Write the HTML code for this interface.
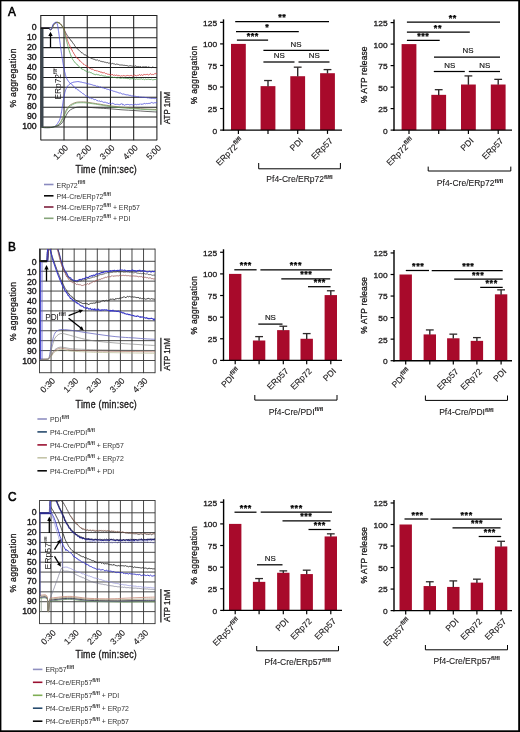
<!DOCTYPE html>
<html><head><meta charset="utf-8"><title>Figure</title>
<style>html,body{margin:0;padding:0;background:#fff;}body{width:520px;height:732px;overflow:hidden;}svg{display:block;font-family:"Liberation Sans", sans-serif;will-change:transform;}</style>
</head><body>
<svg width="520" height="732" viewBox="0 0 520 732">
<rect x="0" y="0" width="520" height="732" fill="#fff"/>
<line x1="40.80" y1="15.50" x2="156.90" y2="15.50" stroke="#1e1e1e" stroke-width="1.05" stroke-linecap="butt"/>
<line x1="40.80" y1="27.80" x2="156.90" y2="27.80" stroke="#1e1e1e" stroke-width="1.05" stroke-linecap="butt"/>
<line x1="40.80" y1="37.72" x2="156.90" y2="37.72" stroke="#1e1e1e" stroke-width="1.05" stroke-linecap="butt"/>
<line x1="40.80" y1="47.64" x2="156.90" y2="47.64" stroke="#1e1e1e" stroke-width="1.05" stroke-linecap="butt"/>
<line x1="40.80" y1="57.56" x2="156.90" y2="57.56" stroke="#1e1e1e" stroke-width="1.05" stroke-linecap="butt"/>
<line x1="40.80" y1="67.48" x2="156.90" y2="67.48" stroke="#1e1e1e" stroke-width="1.05" stroke-linecap="butt"/>
<line x1="40.80" y1="77.40" x2="156.90" y2="77.40" stroke="#1e1e1e" stroke-width="1.05" stroke-linecap="butt"/>
<line x1="40.80" y1="87.32" x2="156.90" y2="87.32" stroke="#1e1e1e" stroke-width="1.05" stroke-linecap="butt"/>
<line x1="40.80" y1="97.24" x2="156.90" y2="97.24" stroke="#1e1e1e" stroke-width="1.05" stroke-linecap="butt"/>
<line x1="40.80" y1="107.16" x2="156.90" y2="107.16" stroke="#1e1e1e" stroke-width="1.05" stroke-linecap="butt"/>
<line x1="40.80" y1="117.08" x2="156.90" y2="117.08" stroke="#1e1e1e" stroke-width="1.05" stroke-linecap="butt"/>
<line x1="40.80" y1="127.00" x2="156.90" y2="127.00" stroke="#1e1e1e" stroke-width="1.05" stroke-linecap="butt"/>
<line x1="40.80" y1="139.90" x2="156.90" y2="139.90" stroke="#1e1e1e" stroke-width="1.05" stroke-linecap="butt"/>
<line x1="40.80" y1="15.05" x2="40.80" y2="140.35" stroke="#1e1e1e" stroke-width="1.05" stroke-linecap="butt"/>
<line x1="64.02" y1="15.05" x2="64.02" y2="140.35" stroke="#1e1e1e" stroke-width="1.05" stroke-linecap="butt"/>
<line x1="87.24" y1="15.05" x2="87.24" y2="140.35" stroke="#1e1e1e" stroke-width="1.05" stroke-linecap="butt"/>
<line x1="110.46" y1="15.05" x2="110.46" y2="140.35" stroke="#1e1e1e" stroke-width="1.05" stroke-linecap="butt"/>
<line x1="133.68" y1="15.05" x2="133.68" y2="140.35" stroke="#1e1e1e" stroke-width="1.05" stroke-linecap="butt"/>
<line x1="156.90" y1="15.05" x2="156.90" y2="140.35" stroke="#1e1e1e" stroke-width="1.05" stroke-linecap="butt"/>
<text transform="translate(36.70,30.10) scale(1.05,1)" font-size="8.3" text-anchor="end" font-weight="normal" fill="#1c1a1b"  stroke="#1c1a1b" stroke-width="0.38">0</text>
<text transform="translate(36.70,40.02) scale(1.05,1)" font-size="8.3" text-anchor="end" font-weight="normal" fill="#1c1a1b"  stroke="#1c1a1b" stroke-width="0.38">10</text>
<text transform="translate(36.70,49.94) scale(1.05,1)" font-size="8.3" text-anchor="end" font-weight="normal" fill="#1c1a1b"  stroke="#1c1a1b" stroke-width="0.38">20</text>
<text transform="translate(36.70,59.86) scale(1.05,1)" font-size="8.3" text-anchor="end" font-weight="normal" fill="#1c1a1b"  stroke="#1c1a1b" stroke-width="0.38">30</text>
<text transform="translate(36.70,69.78) scale(1.05,1)" font-size="8.3" text-anchor="end" font-weight="normal" fill="#1c1a1b"  stroke="#1c1a1b" stroke-width="0.38">40</text>
<text transform="translate(36.70,79.70) scale(1.05,1)" font-size="8.3" text-anchor="end" font-weight="normal" fill="#1c1a1b"  stroke="#1c1a1b" stroke-width="0.38">50</text>
<text transform="translate(36.70,89.62) scale(1.05,1)" font-size="8.3" text-anchor="end" font-weight="normal" fill="#1c1a1b"  stroke="#1c1a1b" stroke-width="0.38">60</text>
<text transform="translate(36.70,99.54) scale(1.05,1)" font-size="8.3" text-anchor="end" font-weight="normal" fill="#1c1a1b"  stroke="#1c1a1b" stroke-width="0.38">70</text>
<text transform="translate(36.70,109.46) scale(1.05,1)" font-size="8.3" text-anchor="end" font-weight="normal" fill="#1c1a1b"  stroke="#1c1a1b" stroke-width="0.38">80</text>
<text transform="translate(36.70,119.38) scale(1.05,1)" font-size="8.3" text-anchor="end" font-weight="normal" fill="#1c1a1b"  stroke="#1c1a1b" stroke-width="0.38">90</text>
<text transform="translate(36.70,129.30) scale(1.05,1)" font-size="8.3" text-anchor="end" font-weight="normal" fill="#1c1a1b"  stroke="#1c1a1b" stroke-width="0.38">100</text>
<text transform="translate(68.72,148.40) rotate(-45)" font-size="8.7" text-anchor="end" font-weight="normal" fill="#1c1a1b"  stroke="#1c1a1b" stroke-width="0.12">1:00</text>
<text transform="translate(91.94,148.40) rotate(-45)" font-size="8.7" text-anchor="end" font-weight="normal" fill="#1c1a1b"  stroke="#1c1a1b" stroke-width="0.12">2:00</text>
<text transform="translate(115.16,148.40) rotate(-45)" font-size="8.7" text-anchor="end" font-weight="normal" fill="#1c1a1b"  stroke="#1c1a1b" stroke-width="0.12">3:00</text>
<text transform="translate(138.38,148.40) rotate(-45)" font-size="8.7" text-anchor="end" font-weight="normal" fill="#1c1a1b"  stroke="#1c1a1b" stroke-width="0.12">4:00</text>
<text transform="translate(161.60,148.40) rotate(-45)" font-size="8.7" text-anchor="end" font-weight="normal" fill="#1c1a1b"  stroke="#1c1a1b" stroke-width="0.12">5:00</text>
<text transform="translate(16.30,77.90) rotate(-90) scale(0.9,1)" font-size="9.5" text-anchor="middle" font-weight="normal" fill="#1c1a1b" letter-spacing="0.37" stroke="#1c1a1b" stroke-width="0.3">% aggregation</text>
<text transform="translate(106.30,172.90) scale(0.86,1)" font-size="10.2" text-anchor="middle" font-weight="normal" fill="#1c1a1b" letter-spacing="0.32" stroke="#1c1a1b" stroke-width="0.35">Time (min:sec)</text>
<text transform="translate(8.10,16.20) scale(0.97,1)" font-size="12.2" text-anchor="start" font-weight="normal" fill="#000"  stroke="#000" stroke-width="0.6">A</text>
<line x1="160.90" y1="91.30" x2="160.90" y2="124.80" stroke="#000" stroke-width="1.1" stroke-linecap="butt"/>
<text transform="translate(169.80,124.10) rotate(-90) scale(0.89,1)" font-size="8.9" text-anchor="start" font-weight="normal" fill="#1c1a1b"  stroke="#1c1a1b" stroke-width="0.3">ATP 1nM</text>
<path d="M41.6,127.5 L41.6,28.2 L48.5,28.2 L49.5,28.6 L50.0,29.4 L50.6,30.0 L51.2,29.6 L51.8,28.5 L52.1,27.9 L52.4,27.2 L52.8,26.4 L53.1,25.6 L53.5,25.0 L54.0,24.3 L54.5,23.7 L55.0,23.2 L55.5,22.8 L56.5,22.4 L57.5,22.4 L58.3,22.6 L59.2,23.0 L60.0,23.5 L60.5,24.0 L61.0,24.6 L61.5,25.3 L62.0,26.0 L62.4,26.6 L62.8,27.2 L63.3,27.9 L63.8,28.8 L64.1,29.3 L64.4,29.9 L64.7,30.6 L65.0,31.3 L65.3,32.0 L65.7,32.7 L66.1,33.5 L66.5,34.2 L67.0,35.0 L67.3,35.5 L67.7,36.0 L68.1,36.6 L68.5,37.3 L68.9,37.7 L69.4,38.4 L69.8,39.1 L70.3,39.4 L70.7,40.2 L71.2,41.0 L71.6,40.9 L72.1,41.9 L72.5,42.5 L73.0,42.9 L73.4,43.8 L73.8,44.3 L74.3,44.6 L74.7,45.7 L75.2,46.3 L75.6,46.9 L76.1,47.6 L76.5,47.9 L77.0,48.5 L77.5,48.7 L78.0,49.6 L78.5,49.9 L79.1,50.4 L79.7,50.8 L80.3,51.3 L80.9,51.9 L81.5,52.8 L82.1,52.5 L82.7,53.1 L83.3,53.9 L83.9,54.6 L84.4,54.8 L85.0,54.6 L85.7,54.9 L86.4,55.9 L87.1,56.0 L87.7,56.3 L88.4,57.1 L89.0,57.4 L89.7,57.5 L90.3,57.8 L91.0,58.1 L91.7,58.6 L92.3,58.7 L92.9,58.9 L93.5,59.2 L94.2,58.9 L94.9,59.8 L95.6,60.0 L96.5,60.1 L97.5,59.9 L98.0,60.3 L98.6,60.8 L99.2,60.4 L99.9,60.9 L100.6,61.3 L101.2,61.0 L101.9,61.8 L102.7,61.7 L103.4,61.7 L104.1,62.0 L104.9,62.3 L105.6,62.3 L106.4,62.7 L107.1,62.5 L107.9,62.7 L108.6,63.2 L109.3,63.1 L110.0,63.0 L110.7,63.5 L111.4,63.8 L112.1,63.5 L112.8,63.4 L113.5,63.8 L114.2,63.9 L114.9,64.0 L115.6,64.5 L116.3,64.0 L117.0,64.6 L117.7,64.2 L118.4,64.4 L119.1,64.8 L119.8,65.0 L120.5,65.0 L121.3,65.0 L122.0,65.0 L122.7,65.1 L123.4,65.3 L124.1,65.2 L124.9,65.4 L125.6,65.5 L126.3,65.5 L127.1,65.7 L127.8,65.8 L128.6,66.2 L129.3,65.9 L130.0,65.8 L130.8,65.8 L131.5,66.0 L132.2,66.3 L132.9,66.0 L133.6,66.3 L134.3,66.6 L135.0,65.7 L135.8,66.1 L136.6,66.5 L137.3,66.6 L138.1,66.6 L138.8,66.5 L139.6,66.8 L140.3,66.7 L141.0,66.6 L141.7,67.3 L142.4,66.9 L143.1,66.7 L143.8,66.9 L144.6,66.9 L145.3,66.9 L146.0,66.4 L146.7,66.9 L147.5,67.3 L148.3,66.9 L149.2,67.2 L150.0,67.4 L150.9,67.5 L151.7,67.6 L152.5,67.0 L153.3,67.3 L154.0,67.4 L154.7,67.6 L155.3,67.8 L155.9,67.0 L156.4,67.8 L156.8,67.3" fill="none" stroke="#2a2a2a" stroke-width="0.8" stroke-linejoin="round" />
<path d="M41.6,127.5 L41.6,28.2 L48.5,28.2 L49.5,28.6 L50.0,29.4 L50.6,30.0 L51.2,29.6 L51.8,28.5 L52.1,27.9 L52.4,27.2 L52.8,26.4 L53.1,25.6 L53.5,25.0 L54.0,24.3 L54.5,23.7 L55.0,23.2 L55.5,22.8 L56.5,22.4 L57.5,22.4 L58.3,22.6 L59.2,23.0 L60.0,23.5 L60.5,24.0 L61.0,24.6 L61.5,25.3 L62.0,26.0 L62.5,26.6 L62.9,27.1 L63.3,27.8 L63.8,28.8 L64.0,29.3 L64.2,29.9 L64.4,30.6 L64.6,31.3 L64.8,32.1 L65.0,32.9 L65.3,33.6 L65.5,34.4 L65.7,35.2 L66.0,36.0 L66.2,36.6 L66.4,37.3 L66.7,38.0 L66.9,38.6 L67.2,39.3 L67.4,40.0 L67.7,40.7 L67.9,41.5 L68.2,41.9 L68.5,42.8 L68.7,43.6 L69.0,44.2 L69.3,44.7 L69.6,45.2 L69.9,46.2 L70.2,46.7 L70.4,47.3 L70.7,48.3 L71.1,48.5 L71.4,48.6 L71.7,49.8 L72.1,50.0 L72.5,51.4 L72.9,51.9 L73.2,52.2 L73.6,53.0 L74.0,53.9 L74.4,54.3 L74.8,55.3 L75.2,55.5 L75.7,56.4 L76.1,57.2 L76.6,57.8 L77.1,57.7 L77.5,58.7 L78.0,58.4 L78.5,59.2 L79.0,59.5 L79.5,60.9 L80.1,60.7 L80.6,61.5 L81.2,62.0 L81.8,62.5 L82.3,62.8 L82.9,63.4 L83.4,64.3 L84.0,64.2 L84.5,64.8 L85.0,65.3 L85.6,65.4 L86.3,65.5 L86.9,66.2 L87.4,67.1 L88.0,66.6 L88.6,67.3 L89.2,68.1 L89.8,68.4 L90.4,68.5 L91.0,69.0 L91.7,69.2 L92.3,69.1 L92.9,69.2 L93.5,69.8 L94.2,70.5 L94.9,70.3 L95.6,70.5 L96.5,70.8 L97.5,70.8 L98.0,71.4 L98.6,71.3 L99.2,71.9 L99.9,71.3 L100.5,72.3 L101.2,72.2 L101.9,72.0 L102.6,73.0 L103.4,72.8 L104.1,72.4 L104.9,73.0 L105.6,73.6 L106.4,73.5 L107.1,74.1 L107.8,74.2 L108.6,74.3 L109.3,74.4 L110.0,74.8 L110.7,74.7 L111.5,74.8 L112.2,74.1 L112.9,75.1 L113.7,75.4 L114.4,75.0 L115.1,75.0 L115.9,75.8 L116.6,74.8 L117.4,75.5 L118.1,76.2 L118.8,75.2 L119.6,75.7 L120.3,76.2 L121.0,75.6 L121.8,75.8 L122.5,76.0 L123.2,75.5 L124.0,75.7 L124.7,75.8 L125.5,76.0 L126.2,75.7 L127.0,75.7 L127.7,75.4 L128.5,75.6 L129.2,75.9 L130.0,75.7 L130.7,75.4 L131.4,75.3 L132.2,76.3 L132.9,75.8 L133.6,75.7 L134.3,74.7 L135.0,75.6 L135.8,75.5 L136.5,75.8 L137.3,75.4 L138.0,75.2 L138.8,75.3 L139.5,74.5 L140.2,75.4 L141.0,75.1 L141.7,74.7 L142.4,75.3 L143.1,75.4 L143.8,74.3 L144.6,74.5 L145.3,74.7 L146.0,74.7 L146.7,74.4 L147.5,74.2 L148.3,75.1 L149.2,74.7 L150.0,73.9 L150.9,73.8 L151.7,74.7 L152.5,74.4 L153.3,74.6 L154.0,74.3 L154.7,73.7 L155.3,74.0 L155.9,73.2 L156.4,73.6 L156.8,73.8" fill="none" stroke="#d23a3a" stroke-width="0.8" stroke-linejoin="round" />
<path d="M41.6,127.5 L41.6,28.2 L48.5,28.2 L49.5,28.6 L50.0,29.4 L50.6,30.0 L51.2,29.6 L51.8,28.5 L52.1,27.9 L52.4,27.2 L52.8,26.4 L53.1,25.6 L53.5,25.0 L54.0,24.3 L54.5,23.7 L55.0,23.2 L55.5,22.8 L56.5,22.4 L57.5,22.4 L58.3,22.6 L59.2,23.0 L60.0,23.5 L60.5,24.0 L61.0,24.6 L61.5,25.3 L62.0,26.0 L62.5,26.6 L63.0,27.3 L63.4,28.0 L63.8,28.8 L64.0,29.4 L64.2,30.1 L64.3,30.8 L64.4,31.6 L64.6,32.5 L64.8,33.5 L64.9,34.1 L65.1,34.7 L65.2,35.3 L65.4,35.9 L65.5,36.6 L65.7,37.3 L65.9,38.0 L66.0,38.7 L66.2,39.5 L66.4,40.3 L66.6,41.1 L66.8,41.8 L67.0,42.5 L67.1,43.1 L67.3,43.8 L67.5,44.6 L67.7,45.2 L67.9,46.1 L68.1,46.8 L68.3,47.5 L68.5,48.2 L68.7,49.2 L68.9,49.8 L69.1,50.3 L69.3,51.0 L69.5,52.0 L69.7,52.1 L70.0,53.2 L70.3,54.0 L70.5,54.6 L70.8,55.0 L71.0,56.0 L71.3,56.7 L71.6,57.5 L71.9,58.0 L72.2,58.5 L72.6,59.3 L73.0,59.9 L73.4,60.4 L73.8,61.0 L74.2,61.5 L74.7,62.3 L75.1,62.4 L75.6,63.1 L76.1,63.8 L76.6,64.0 L77.2,64.8 L77.7,64.9 L78.2,65.7 L78.8,66.5 L79.3,66.9 L79.9,67.3 L80.5,67.7 L81.1,67.8 L81.7,69.1 L82.3,69.2 L82.9,69.7 L83.5,69.6 L84.1,70.2 L84.8,70.1 L85.5,71.1 L86.2,71.5 L86.9,71.1 L87.6,71.8 L88.3,72.2 L89.0,71.9 L89.6,72.1 L90.3,72.5 L91.0,72.8 L91.7,72.9 L92.4,73.5 L93.0,73.7 L93.6,74.0 L94.2,74.2 L94.9,74.6 L95.7,74.7 L96.5,74.3 L97.5,74.7 L98.0,74.6 L98.6,74.8 L99.2,75.1 L99.9,75.3 L100.6,75.5 L101.2,75.1 L101.9,75.4 L102.7,75.8 L103.4,75.9 L104.1,76.0 L104.9,76.2 L105.6,76.1 L106.4,76.6 L107.1,76.7 L107.9,76.7 L108.6,76.6 L109.3,76.9 L110.0,76.3 L110.7,76.9 L111.4,77.2 L112.1,76.9 L112.8,77.4 L113.5,77.5 L114.2,77.2 L114.9,77.5 L115.6,77.6 L116.3,77.8 L117.0,78.0 L117.7,77.9 L118.4,77.7 L119.1,77.9 L119.8,78.0 L120.5,78.3 L121.3,78.2 L122.0,78.0 L122.7,77.9 L123.4,78.2 L124.1,78.2 L124.9,78.1 L125.6,78.4 L126.3,78.3 L127.1,78.5 L127.8,78.6 L128.6,78.4 L129.3,79.2 L130.0,78.5 L130.8,78.9 L131.5,78.7 L132.2,79.0 L132.9,78.1 L133.6,78.6 L134.3,78.8 L135.0,79.0 L135.8,79.4 L136.6,78.9 L137.3,79.2 L138.1,79.1 L138.8,79.2 L139.6,79.1 L140.3,79.0 L141.0,79.2 L141.7,78.8 L142.4,79.4 L143.1,78.9 L143.8,79.2 L144.6,79.7 L145.3,79.1 L146.0,79.2 L146.7,79.5 L147.5,79.3 L148.3,79.1 L149.2,79.4 L150.0,79.5 L150.9,79.5 L151.7,79.2 L152.5,79.8 L153.3,79.8 L154.0,79.4 L154.7,79.5 L155.3,79.4 L155.9,79.8 L156.4,79.3 L156.8,79.7" fill="none" stroke="#4c9a4c" stroke-width="0.8" stroke-linejoin="round" />
<path d="M41.6,127.5 L41.6,28.2 L48.5,28.2 L49.5,28.6 L50.0,29.4 L50.6,30.0 L51.0,29.6 L51.4,28.9 L51.8,28.0 L52.0,27.4 L52.3,26.6 L52.5,25.9 L52.7,25.1 L53.0,24.5 L53.6,23.7 L54.2,23.0 L54.8,22.6 L55.6,22.3 L56.3,22.5 L56.7,22.9 L57.1,23.7 L57.5,25.0 L57.6,25.5 L57.7,26.1 L57.9,26.7 L58.0,27.4 L58.1,28.2 L58.2,29.0 L58.3,29.7 L58.4,30.6 L58.6,31.4 L58.7,32.2 L58.8,33.0 L58.9,33.7 L59.0,34.4 L59.1,35.1 L59.2,35.8 L59.3,36.5 L59.4,37.3 L59.4,38.0 L59.5,38.8 L59.6,39.5 L59.7,40.3 L59.8,41.0 L59.9,41.8 L60.0,42.5 L60.1,43.2 L60.2,44.0 L60.3,44.7 L60.4,45.5 L60.5,46.2 L60.6,47.0 L60.7,47.7 L60.8,48.5 L60.9,49.2 L61.0,49.9 L61.1,50.6 L61.2,51.3 L61.3,52.0 L61.4,52.8 L61.5,53.5 L61.6,54.2 L61.7,54.9 L61.8,55.6 L61.9,56.3 L62.0,57.0 L62.1,57.7 L62.2,58.4 L62.4,59.2 L62.5,60.0 L62.6,60.7 L62.7,61.3 L62.8,62.1 L63.0,62.8 L63.1,63.5 L63.2,64.3 L63.4,65.0 L63.5,65.8 L63.6,66.5 L63.8,67.3 L63.9,68.0 L64.0,68.7 L64.2,69.4 L64.3,70.0 L64.5,70.8 L64.6,71.6 L64.8,72.3 L65.0,73.0 L65.2,73.7 L65.3,74.4 L65.5,75.1 L65.7,75.7 L65.9,76.4 L66.1,76.9 L66.3,77.5 L66.6,78.3 L67.0,79.0 L67.4,79.7 L67.8,80.3 L68.1,80.9 L68.6,81.5 L69.0,82.0 L69.5,82.6 L70.0,83.1 L70.6,83.7 L71.2,84.0 L71.8,84.4 L72.5,85.0 L73.0,85.4 L73.4,86.1 L74.0,86.9 L74.5,87.1 L75.0,87.6 L75.6,88.7 L76.2,88.3 L76.8,88.8 L77.4,89.7 L78.0,90.2 L78.5,90.1 L79.1,90.5 L79.7,91.4 L80.3,91.8 L80.9,91.8 L81.5,92.5 L82.1,92.9 L82.7,93.6 L83.3,93.8 L83.9,94.2 L84.4,94.5 L85.0,95.3 L85.7,95.9 L86.4,95.8 L87.1,96.5 L87.7,96.4 L88.4,97.0 L89.0,97.6 L89.7,98.1 L90.3,97.9 L91.0,98.3 L91.7,98.7 L92.3,98.4 L92.9,99.1 L93.5,99.2 L94.2,99.7 L94.9,99.5 L95.6,99.5 L96.5,100.3 L97.5,100.7 L98.0,100.6 L98.6,101.2 L99.2,101.0 L99.9,101.0 L100.5,101.5 L101.2,101.1 L101.9,101.5 L102.6,101.8 L103.4,102.3 L104.1,102.1 L104.9,102.4 L105.6,102.3 L106.4,102.7 L107.1,103.3 L107.8,102.7 L108.6,103.8 L109.3,103.0 L110.0,103.3 L110.7,103.5 L111.5,103.8 L112.2,103.3 L112.9,103.1 L113.7,104.0 L114.4,104.2 L115.1,104.2 L115.9,104.9 L116.6,104.2 L117.4,104.3 L118.1,104.6 L118.8,104.5 L119.6,104.9 L120.3,104.1 L121.0,104.4 L121.8,103.5 L122.5,104.8 L123.2,104.5 L124.0,104.9 L124.7,105.3 L125.5,104.7 L126.2,104.6 L127.0,104.6 L127.7,104.4 L128.5,104.5 L129.2,104.9 L130.0,104.7 L130.7,104.7 L131.4,104.6 L132.2,104.9 L132.9,104.7 L133.6,104.5 L134.3,104.7 L135.0,104.5 L135.8,104.1 L136.5,104.9 L137.3,104.5 L138.0,104.0 L138.8,104.6 L139.5,104.3 L140.2,103.7 L141.0,104.6 L141.7,104.1 L142.4,104.2 L143.1,103.9 L143.8,103.8 L144.6,103.3 L145.3,104.0 L146.0,103.6 L146.7,103.4 L147.5,103.6 L148.3,103.4 L149.2,103.5 L150.0,103.1 L150.9,103.1 L151.7,102.4 L152.5,102.8 L153.3,103.1 L154.0,103.2 L154.7,102.6 L155.3,102.6 L155.9,103.1 L156.4,102.4 L156.8,102.7" fill="none" stroke="#4a4ad8" stroke-width="0.8" stroke-linejoin="round" />
<line x1="42.00" y1="28.00" x2="42.00" y2="127.80" stroke="#3c464e" stroke-width="3.0" stroke-linecap="butt"/>
<line x1="40.80" y1="28.30" x2="49.30" y2="28.30" stroke="#151515" stroke-width="1.4" stroke-linecap="butt"/>
<path d="M41.6,127.5 L42.0,127.5 L42.6,127.5 L43.3,127.5 L44.1,127.6 L45.0,127.6 L45.8,127.6 L46.6,127.6 L47.4,127.6 L48.0,127.6 L49.0,127.6 L49.9,127.6 L50.7,127.5 L51.4,127.5 L52.0,127.4 L53.1,127.2 L54.0,126.8 L54.6,126.5 L55.2,126.0 L55.9,125.6 L56.5,125.0 L56.9,124.5 L57.4,123.9 L57.8,123.3 L58.1,122.6 L58.5,122.0 L58.9,121.3 L59.3,120.8 L59.6,120.0 L60.0,119.0 L60.1,118.5 L60.3,118.0 L60.4,117.4 L60.6,116.8 L60.7,116.2 L60.8,115.5 L61.0,114.8 L61.1,113.9 L61.3,113.0 L61.5,112.0 L61.6,111.4 L61.7,110.8 L61.8,110.2 L61.9,109.5 L62.0,108.7 L62.2,108.0 L62.3,107.2 L62.4,106.4 L62.5,105.6 L62.6,104.8 L62.8,103.9 L62.9,103.1 L63.0,102.3 L63.1,101.5 L63.2,100.8 L63.4,100.0 L63.5,99.3 L63.6,98.7 L63.7,98.1 L63.8,97.5 L64.0,96.5 L64.2,95.6 L64.3,94.8 L64.5,94.0 L64.7,93.4 L64.8,92.7 L65.0,92.2 L65.2,91.6 L65.3,91.1 L65.5,90.5 L65.8,89.6 L66.1,88.8 L66.5,88.1 L66.8,87.5 L67.1,86.9 L67.5,86.3 L68.0,85.7 L68.5,85.1 L69.0,84.6 L69.5,84.2 L70.0,83.8 L70.6,83.4 L71.2,83.0 L71.8,82.8 L72.5,82.5 L73.1,82.3 L73.9,82.1 L74.6,82.0 L75.3,81.9 L76.0,81.8 L76.7,81.7 L77.3,81.6 L78.1,81.6 L79.0,81.7 L79.6,81.8 L80.3,82.0 L81.0,82.1 L81.8,82.2 L82.6,82.5 L83.4,82.6 L84.2,82.8 L85.0,82.9 L85.7,83.1 L86.5,83.4 L87.2,83.6 L88.0,83.6 L88.7,84.0 L89.5,84.1 L90.2,84.2 L91.0,84.6 L91.7,84.6 L92.3,84.8 L92.9,85.1 L93.5,85.3 L94.2,85.3 L94.9,85.6 L95.6,85.7 L96.5,86.3 L97.5,86.2 L98.0,86.6 L98.6,86.5 L99.2,86.9 L99.9,87.3 L100.5,86.9 L101.2,87.3 L101.9,87.7 L102.6,87.8 L103.4,87.9 L104.1,88.5 L104.9,88.5 L105.6,88.5 L106.4,89.0 L107.1,88.9 L107.8,89.5 L108.6,89.5 L109.3,89.8 L110.0,90.2 L110.7,90.2 L111.4,90.3 L112.1,90.4 L112.8,91.0 L113.5,91.2 L114.2,91.2 L114.9,91.6 L115.6,91.8 L116.2,92.1 L116.9,91.9 L117.6,92.4 L118.3,92.7 L119.0,92.9 L119.7,93.1 L120.4,92.9 L121.1,93.5 L121.8,93.7 L122.5,94.1 L123.2,93.9 L123.9,94.1 L124.6,94.3 L125.3,94.6 L126.0,94.6 L126.7,94.9 L127.4,94.8 L128.1,95.1 L128.8,95.1 L129.5,95.4 L130.2,95.4 L130.9,95.4 L131.6,95.9 L132.3,95.9 L133.0,95.9 L133.7,96.1 L134.3,96.3 L135.0,96.2 L135.8,96.4 L136.5,96.6 L137.3,96.7 L138.0,96.7 L138.8,96.6 L139.5,97.1 L140.2,97.1 L141.0,97.1 L141.7,97.2 L142.4,97.3 L143.1,97.3 L143.8,97.3 L144.6,97.4 L145.3,97.5 L146.0,97.6 L146.7,97.6 L147.5,97.9 L148.3,97.8 L149.2,98.1 L150.0,98.0 L150.9,98.3 L151.7,98.5 L152.5,98.4 L153.3,98.4 L154.0,98.5 L154.7,98.6 L155.3,98.4 L155.9,98.6 L156.4,98.8 L156.8,98.7" fill="none" stroke="#4a4ad8" stroke-width="0.8" stroke-linejoin="round" />
<path d="M41.60,127.50 C42.67,127.52 46.27,127.62 48.00,127.60 C49.73,127.58 51.00,127.53 52.00,127.40 C53.00,127.27 53.17,127.12 54.00,126.80 C54.83,126.48 56.00,126.13 57.00,125.50 C58.00,124.87 59.00,124.42 60.00,123.00 C61.00,121.58 61.95,119.17 63.00,117.00 C64.05,114.83 65.30,111.83 66.30,110.00 C67.30,108.17 67.97,107.05 69.00,106.00 C70.03,104.95 71.33,104.30 72.50,103.70 C73.67,103.10 74.92,102.68 76.00,102.40 C77.08,102.12 77.50,102.07 79.00,102.00 C80.50,101.93 83.00,101.87 85.00,102.00 C87.00,102.13 88.92,102.50 91.00,102.80 C93.08,103.10 94.33,103.30 97.50,103.80 C100.67,104.30 105.92,105.23 110.00,105.80 C114.08,106.37 117.83,106.78 122.00,107.20 C126.17,107.62 131.00,108.00 135.00,108.30 C139.00,108.60 142.37,108.80 146.00,109.00 C149.63,109.20 155.00,109.42 156.80,109.50" fill="none" stroke="#8a7a55" stroke-width="0.8" stroke-linejoin="round" />
<path d="M41.60,127.50 C42.67,127.52 46.27,127.62 48.00,127.60 C49.73,127.58 51.00,127.53 52.00,127.40 C53.00,127.27 53.17,127.07 54.00,126.80 C54.83,126.53 56.00,126.33 57.00,125.80 C58.00,125.27 59.00,124.82 60.00,123.60 C61.00,122.38 61.95,120.52 63.00,118.50 C64.05,116.48 65.30,113.38 66.30,111.50 C67.30,109.62 67.97,108.33 69.00,107.20 C70.03,106.07 71.33,105.37 72.50,104.70 C73.67,104.03 74.92,103.52 76.00,103.20 C77.08,102.88 77.50,102.87 79.00,102.80 C80.50,102.73 83.00,102.68 85.00,102.80 C87.00,102.92 88.92,103.22 91.00,103.50 C93.08,103.78 94.33,104.00 97.50,104.50 C100.67,105.00 105.92,105.93 110.00,106.50 C114.08,107.07 117.83,107.50 122.00,107.90 C126.17,108.30 131.00,108.62 135.00,108.90 C139.00,109.18 142.37,109.40 146.00,109.60 C149.63,109.80 155.00,110.02 156.80,110.10" fill="none" stroke="#4c9a4c" stroke-width="0.6" stroke-linejoin="round" />
<path d="M41.60,127.50 C42.67,127.52 46.27,127.62 48.00,127.60 C49.73,127.58 51.00,127.53 52.00,127.40 C53.00,127.27 53.08,127.03 54.00,126.80 C54.92,126.57 56.33,126.47 57.50,126.00 C58.67,125.53 59.92,125.00 61.00,124.00 C62.08,123.00 63.12,121.50 64.00,120.00 C64.88,118.50 65.47,116.50 66.30,115.00 C67.13,113.50 67.97,112.05 69.00,111.00 C70.03,109.95 71.33,109.30 72.50,108.70 C73.67,108.10 74.92,107.68 76.00,107.40 C77.08,107.12 77.50,107.07 79.00,107.00 C80.50,106.93 83.00,106.92 85.00,107.00 C87.00,107.08 88.92,107.33 91.00,107.50 C93.08,107.67 94.33,107.78 97.50,108.00 C100.67,108.22 105.92,108.50 110.00,108.80 C114.08,109.10 117.83,109.50 122.00,109.80 C126.17,110.10 131.00,110.33 135.00,110.60 C139.00,110.87 142.37,111.17 146.00,111.40 C149.63,111.63 155.00,111.90 156.80,112.00" fill="none" stroke="#2a2a2a" stroke-width="0.7" stroke-linejoin="round" />
<line x1="50.50" y1="47.50" x2="50.50" y2="35.00" stroke="#000" stroke-width="1.3" stroke-linecap="butt"/>
<path d="M50.5,31.8 L48.3,36 L52.7,36 Z" fill="#000"/>
<text transform="translate(60.80,99.60) rotate(-90)" font-size="8.4" text-anchor="start" font-weight="normal" fill="#1c1a1b" >ERp72<tspan dy="-3.53" font-size="4.62" font-weight="bold">fl/fl</tspan></text>
<line x1="44.00" y1="184.50" x2="53.50" y2="184.50" stroke="#8a8abf" stroke-width="1.6" stroke-linecap="butt"/>
<text transform="translate(56.60,187.50)" font-size="6.9" text-anchor="start" font-weight="normal" fill="#333" >ERp72<tspan dy="-3.11" font-size="5.11" font-weight="bold">fl/fl</tspan></text>
<line x1="44.00" y1="195.80" x2="53.50" y2="195.80" stroke="#0a0a0a" stroke-width="1.6" stroke-linecap="butt"/>
<text transform="translate(56.60,198.80)" font-size="6.9" text-anchor="start" font-weight="normal" fill="#333" >Pf4-Cre/ERp72<tspan dy="-3.11" font-size="5.11" font-weight="bold">fl/fl</tspan></text>
<line x1="44.00" y1="207.00" x2="53.50" y2="207.00" stroke="#7d1f3c" stroke-width="1.6" stroke-linecap="butt"/>
<text transform="translate(56.60,210.00)" font-size="6.9" text-anchor="start" font-weight="normal" fill="#333" >Pf4-Cre/ERp72<tspan dy="-3.11" font-size="5.11" font-weight="bold">fl/fl</tspan><tspan dy="3.11" font-weight="normal"> + ERp57</tspan></text>
<line x1="44.00" y1="218.30" x2="53.50" y2="218.30" stroke="#86a57a" stroke-width="1.6" stroke-linecap="butt"/>
<text transform="translate(56.60,221.30)" font-size="6.9" text-anchor="start" font-weight="normal" fill="#333" >Pf4-Cre/ERp72<tspan dy="-3.11" font-size="5.11" font-weight="bold">fl/fl</tspan><tspan dy="3.11" font-weight="normal"> + PDI</tspan></text>
<rect x="231.00" y="43.90" width="14.80" height="86.20" fill="#a80a2b"/>
<rect x="260.60" y="86.14" width="14.80" height="43.96" fill="#a80a2b"/>
<line x1="268.00" y1="86.44" x2="268.00" y2="80.53" stroke="#2e2a2a" stroke-width="1.4" stroke-linecap="butt"/>
<line x1="264.10" y1="80.53" x2="271.90" y2="80.53" stroke="#2e2a2a" stroke-width="1.3" stroke-linecap="butt"/>
<rect x="290.30" y="76.22" width="14.80" height="53.88" fill="#a80a2b"/>
<line x1="297.70" y1="76.52" x2="297.70" y2="67.17" stroke="#2e2a2a" stroke-width="1.4" stroke-linecap="butt"/>
<line x1="293.80" y1="67.17" x2="301.60" y2="67.17" stroke="#2e2a2a" stroke-width="1.3" stroke-linecap="butt"/>
<rect x="320.10" y="73.21" width="14.80" height="56.89" fill="#a80a2b"/>
<line x1="327.50" y1="73.51" x2="327.50" y2="69.59" stroke="#2e2a2a" stroke-width="1.4" stroke-linecap="butt"/>
<line x1="323.60" y1="69.59" x2="331.40" y2="69.59" stroke="#2e2a2a" stroke-width="1.3" stroke-linecap="butt"/>
<line x1="223.50" y1="19.35" x2="223.50" y2="130.80" stroke="#000" stroke-width="1.4" stroke-linecap="butt"/>
<line x1="222.80" y1="130.10" x2="342.00" y2="130.10" stroke="#000" stroke-width="1.4" stroke-linecap="butt"/>
<line x1="220.10" y1="130.10" x2="223.50" y2="130.10" stroke="#000" stroke-width="1.2" stroke-linecap="butt"/>
<text transform="translate(217.10,133.50) scale(1.05,1)" font-size="8.0" text-anchor="end" font-weight="normal" fill="#1c1a1b"  stroke="#1c1a1b" stroke-width="0.3">0</text>
<line x1="220.10" y1="108.55" x2="223.50" y2="108.55" stroke="#000" stroke-width="1.2" stroke-linecap="butt"/>
<text transform="translate(217.10,111.95) scale(1.05,1)" font-size="8.0" text-anchor="end" font-weight="normal" fill="#1c1a1b"  stroke="#1c1a1b" stroke-width="0.3">25</text>
<line x1="220.10" y1="87.00" x2="223.50" y2="87.00" stroke="#000" stroke-width="1.2" stroke-linecap="butt"/>
<text transform="translate(217.10,90.40) scale(1.05,1)" font-size="8.0" text-anchor="end" font-weight="normal" fill="#1c1a1b"  stroke="#1c1a1b" stroke-width="0.3">50</text>
<line x1="220.10" y1="65.45" x2="223.50" y2="65.45" stroke="#000" stroke-width="1.2" stroke-linecap="butt"/>
<text transform="translate(217.10,68.85) scale(1.05,1)" font-size="8.0" text-anchor="end" font-weight="normal" fill="#1c1a1b"  stroke="#1c1a1b" stroke-width="0.3">75</text>
<line x1="220.10" y1="43.90" x2="223.50" y2="43.90" stroke="#000" stroke-width="1.2" stroke-linecap="butt"/>
<text transform="translate(217.10,47.30) scale(1.05,1)" font-size="8.0" text-anchor="end" font-weight="normal" fill="#1c1a1b"  stroke="#1c1a1b" stroke-width="0.3">100</text>
<line x1="220.10" y1="22.35" x2="223.50" y2="22.35" stroke="#000" stroke-width="1.2" stroke-linecap="butt"/>
<text transform="translate(217.10,25.75) scale(1.05,1)" font-size="8.0" text-anchor="end" font-weight="normal" fill="#1c1a1b"  stroke="#1c1a1b" stroke-width="0.3">125</text>
<line x1="238.40" y1="130.10" x2="238.40" y2="133.90" stroke="#000" stroke-width="1.2" stroke-linecap="butt"/>
<line x1="268.00" y1="130.10" x2="268.00" y2="133.90" stroke="#000" stroke-width="1.2" stroke-linecap="butt"/>
<line x1="297.70" y1="130.10" x2="297.70" y2="133.90" stroke="#000" stroke-width="1.2" stroke-linecap="butt"/>
<line x1="327.50" y1="130.10" x2="327.50" y2="133.90" stroke="#000" stroke-width="1.2" stroke-linecap="butt"/>
<text transform="translate(196.90,74.80) rotate(-90) scale(0.9,1)" font-size="9.3" text-anchor="middle" font-weight="normal" fill="#1c1a1b" letter-spacing="0.42" stroke="#1c1a1b" stroke-width="0.3">% aggregation</text>
<text transform="translate(244.20,141.40) rotate(-45)" font-size="8.6" text-anchor="end" font-weight="normal" fill="#1c1a1b"  stroke="#1c1a1b" stroke-width="0.12">ERp72<tspan dy="-3.53" font-size="5.85" font-weight="bold">fl/fl</tspan></text>
<text transform="translate(303.50,141.40) rotate(-45)" font-size="8.6" text-anchor="end" font-weight="normal" fill="#1c1a1b"  stroke="#1c1a1b" stroke-width="0.12">PDI</text>
<text transform="translate(333.30,141.40) rotate(-45)" font-size="8.6" text-anchor="end" font-weight="normal" fill="#1c1a1b"  stroke="#1c1a1b" stroke-width="0.12">ERp57</text>
<line x1="235.20" y1="21.60" x2="329.00" y2="21.60" stroke="#000" stroke-width="1.25" stroke-linecap="butt"/>
<text transform="translate(282.20,20.10)" font-size="9.0" text-anchor="middle" font-weight="bold" fill="#000" letter-spacing="0.55" stroke="#000" stroke-width="0.25">**</text>
<line x1="236.00" y1="31.60" x2="298.80" y2="31.60" stroke="#000" stroke-width="1.25" stroke-linecap="butt"/>
<text transform="translate(267.20,30.10)" font-size="9.0" text-anchor="middle" font-weight="bold" fill="#000" letter-spacing="0.55" stroke="#000" stroke-width="0.25">*</text>
<line x1="236.90" y1="40.10" x2="268.10" y2="40.10" stroke="#000" stroke-width="1.25" stroke-linecap="butt"/>
<text transform="translate(252.80,38.60)" font-size="9.0" text-anchor="middle" font-weight="bold" fill="#000" letter-spacing="0.55" stroke="#000" stroke-width="0.25">***</text>
<line x1="263.40" y1="50.40" x2="329.00" y2="50.40" stroke="#000" stroke-width="1.25" stroke-linecap="butt"/>
<text transform="translate(296.00,46.60) scale(0.99,1)" font-size="8.0" text-anchor="middle" font-weight="normal" fill="#1a1a1a"  stroke="#1a1a1a" stroke-width="0.2">NS</text>
<line x1="263.40" y1="62.00" x2="294.50" y2="62.00" stroke="#000" stroke-width="1.25" stroke-linecap="butt"/>
<text transform="translate(279.20,58.20) scale(0.99,1)" font-size="8.0" text-anchor="middle" font-weight="normal" fill="#1a1a1a"  stroke="#1a1a1a" stroke-width="0.2">NS</text>
<line x1="298.50" y1="62.00" x2="329.50" y2="62.00" stroke="#000" stroke-width="1.25" stroke-linecap="butt"/>
<text transform="translate(314.30,58.20) scale(0.99,1)" font-size="8.0" text-anchor="middle" font-weight="normal" fill="#1a1a1a"  stroke="#1a1a1a" stroke-width="0.2">NS</text>
<path d="M258.70,163.00 L258.70,168.80 L340.40,168.80 L340.40,163.00" fill="none" stroke="#000" stroke-width="1.0" stroke-linejoin="round" />
<text transform="translate(299.50,182.20)" font-size="8.5" text-anchor="middle" font-weight="normal" fill="#1c1a1b"  stroke="#1c1a1b" stroke-width="0.1">Pf4-Cre/ERp72<tspan dy="-3.48" font-size="5.78" font-weight="bold">fl/fl</tspan></text>
<rect x="401.60" y="44.10" width="14.80" height="86.00" fill="#a80a2b"/>
<rect x="431.30" y="94.84" width="14.80" height="35.26" fill="#a80a2b"/>
<line x1="438.70" y1="95.14" x2="438.70" y2="89.68" stroke="#2e2a2a" stroke-width="1.4" stroke-linecap="butt"/>
<line x1="434.80" y1="89.68" x2="442.60" y2="89.68" stroke="#2e2a2a" stroke-width="1.3" stroke-linecap="butt"/>
<rect x="461.00" y="84.52" width="14.80" height="45.58" fill="#a80a2b"/>
<line x1="468.40" y1="84.82" x2="468.40" y2="75.92" stroke="#2e2a2a" stroke-width="1.4" stroke-linecap="butt"/>
<line x1="464.50" y1="75.92" x2="472.30" y2="75.92" stroke="#2e2a2a" stroke-width="1.3" stroke-linecap="butt"/>
<rect x="490.80" y="84.52" width="14.80" height="45.58" fill="#a80a2b"/>
<line x1="498.20" y1="84.82" x2="498.20" y2="79.36" stroke="#2e2a2a" stroke-width="1.4" stroke-linecap="butt"/>
<line x1="494.30" y1="79.36" x2="502.10" y2="79.36" stroke="#2e2a2a" stroke-width="1.3" stroke-linecap="butt"/>
<line x1="394.00" y1="19.60" x2="394.00" y2="130.80" stroke="#000" stroke-width="1.4" stroke-linecap="butt"/>
<line x1="393.30" y1="130.10" x2="512.00" y2="130.10" stroke="#000" stroke-width="1.4" stroke-linecap="butt"/>
<line x1="390.60" y1="130.10" x2="394.00" y2="130.10" stroke="#000" stroke-width="1.2" stroke-linecap="butt"/>
<text transform="translate(387.60,133.50) scale(1.05,1)" font-size="8.0" text-anchor="end" font-weight="normal" fill="#1c1a1b"  stroke="#1c1a1b" stroke-width="0.3">0</text>
<line x1="390.60" y1="108.60" x2="394.00" y2="108.60" stroke="#000" stroke-width="1.2" stroke-linecap="butt"/>
<text transform="translate(387.60,112.00) scale(1.05,1)" font-size="8.0" text-anchor="end" font-weight="normal" fill="#1c1a1b"  stroke="#1c1a1b" stroke-width="0.3">25</text>
<line x1="390.60" y1="87.10" x2="394.00" y2="87.10" stroke="#000" stroke-width="1.2" stroke-linecap="butt"/>
<text transform="translate(387.60,90.50) scale(1.05,1)" font-size="8.0" text-anchor="end" font-weight="normal" fill="#1c1a1b"  stroke="#1c1a1b" stroke-width="0.3">50</text>
<line x1="390.60" y1="65.60" x2="394.00" y2="65.60" stroke="#000" stroke-width="1.2" stroke-linecap="butt"/>
<text transform="translate(387.60,69.00) scale(1.05,1)" font-size="8.0" text-anchor="end" font-weight="normal" fill="#1c1a1b"  stroke="#1c1a1b" stroke-width="0.3">75</text>
<line x1="390.60" y1="44.10" x2="394.00" y2="44.10" stroke="#000" stroke-width="1.2" stroke-linecap="butt"/>
<text transform="translate(387.60,47.50) scale(1.05,1)" font-size="8.0" text-anchor="end" font-weight="normal" fill="#1c1a1b"  stroke="#1c1a1b" stroke-width="0.3">100</text>
<line x1="390.60" y1="22.60" x2="394.00" y2="22.60" stroke="#000" stroke-width="1.2" stroke-linecap="butt"/>
<text transform="translate(387.60,26.00) scale(1.05,1)" font-size="8.0" text-anchor="end" font-weight="normal" fill="#1c1a1b"  stroke="#1c1a1b" stroke-width="0.3">125</text>
<line x1="409.00" y1="130.10" x2="409.00" y2="133.90" stroke="#000" stroke-width="1.2" stroke-linecap="butt"/>
<line x1="438.70" y1="130.10" x2="438.70" y2="133.90" stroke="#000" stroke-width="1.2" stroke-linecap="butt"/>
<line x1="468.40" y1="130.10" x2="468.40" y2="133.90" stroke="#000" stroke-width="1.2" stroke-linecap="butt"/>
<line x1="498.20" y1="130.10" x2="498.20" y2="133.90" stroke="#000" stroke-width="1.2" stroke-linecap="butt"/>
<text transform="translate(366.50,74.70) rotate(-90) scale(0.9,1)" font-size="9.3" text-anchor="middle" font-weight="normal" fill="#1c1a1b" letter-spacing="0.2" stroke="#1c1a1b" stroke-width="0.3">% ATP release</text>
<text transform="translate(414.80,141.40) rotate(-45)" font-size="8.6" text-anchor="end" font-weight="normal" fill="#1c1a1b"  stroke="#1c1a1b" stroke-width="0.12">ERp72<tspan dy="-3.53" font-size="5.85" font-weight="bold">fl/fl</tspan></text>
<text transform="translate(474.20,141.40) rotate(-45)" font-size="8.6" text-anchor="end" font-weight="normal" fill="#1c1a1b"  stroke="#1c1a1b" stroke-width="0.12">PDI</text>
<text transform="translate(504.00,141.40) rotate(-45)" font-size="8.6" text-anchor="end" font-weight="normal" fill="#1c1a1b"  stroke="#1c1a1b" stroke-width="0.12">ERp57</text>
<line x1="406.90" y1="22.10" x2="500.00" y2="22.10" stroke="#000" stroke-width="1.25" stroke-linecap="butt"/>
<text transform="translate(452.80,20.60)" font-size="9.0" text-anchor="middle" font-weight="bold" fill="#000" letter-spacing="0.55" stroke="#000" stroke-width="0.25">**</text>
<line x1="406.90" y1="32.10" x2="469.80" y2="32.10" stroke="#000" stroke-width="1.25" stroke-linecap="butt"/>
<text transform="translate(437.90,30.60)" font-size="9.0" text-anchor="middle" font-weight="bold" fill="#000" letter-spacing="0.55" stroke="#000" stroke-width="0.25">**</text>
<line x1="406.90" y1="40.40" x2="439.70" y2="40.40" stroke="#000" stroke-width="1.25" stroke-linecap="butt"/>
<text transform="translate(423.30,38.90)" font-size="9.0" text-anchor="middle" font-weight="bold" fill="#000" letter-spacing="0.55" stroke="#000" stroke-width="0.25">***</text>
<line x1="434.00" y1="57.10" x2="500.00" y2="57.10" stroke="#000" stroke-width="1.25" stroke-linecap="butt"/>
<text transform="translate(468.00,53.30) scale(0.99,1)" font-size="8.0" text-anchor="middle" font-weight="normal" fill="#1a1a1a"  stroke="#1a1a1a" stroke-width="0.2">NS</text>
<line x1="433.80" y1="71.50" x2="464.80" y2="71.50" stroke="#000" stroke-width="1.25" stroke-linecap="butt"/>
<text transform="translate(449.70,67.70) scale(0.99,1)" font-size="8.0" text-anchor="middle" font-weight="normal" fill="#1a1a1a"  stroke="#1a1a1a" stroke-width="0.2">NS</text>
<line x1="468.80" y1="71.50" x2="500.00" y2="71.50" stroke="#000" stroke-width="1.25" stroke-linecap="butt"/>
<text transform="translate(484.70,67.70) scale(0.99,1)" font-size="8.0" text-anchor="middle" font-weight="normal" fill="#1a1a1a"  stroke="#1a1a1a" stroke-width="0.2">NS</text>
<path d="M428.20,166.60 L428.20,171.00 L510.80,171.00 L510.80,166.60" fill="none" stroke="#000" stroke-width="1.0" stroke-linejoin="round" />
<text transform="translate(470.00,186.00)" font-size="8.5" text-anchor="middle" font-weight="normal" fill="#1c1a1b"  stroke="#1c1a1b" stroke-width="0.1">Pf4-Cre/ERp72<tspan dy="-3.48" font-size="5.78" font-weight="bold">fl/fl</tspan></text>
<line x1="39.50" y1="249.10" x2="155.10" y2="249.10" stroke="#333333" stroke-width="0.9" stroke-linecap="butt"/>
<line x1="39.50" y1="261.30" x2="155.10" y2="261.30" stroke="#333333" stroke-width="0.9" stroke-linecap="butt"/>
<line x1="39.50" y1="271.22" x2="155.10" y2="271.22" stroke="#333333" stroke-width="0.9" stroke-linecap="butt"/>
<line x1="39.50" y1="281.14" x2="155.10" y2="281.14" stroke="#333333" stroke-width="0.9" stroke-linecap="butt"/>
<line x1="39.50" y1="291.06" x2="155.10" y2="291.06" stroke="#333333" stroke-width="0.9" stroke-linecap="butt"/>
<line x1="39.50" y1="300.98" x2="155.10" y2="300.98" stroke="#333333" stroke-width="0.9" stroke-linecap="butt"/>
<line x1="39.50" y1="310.90" x2="155.10" y2="310.90" stroke="#333333" stroke-width="0.9" stroke-linecap="butt"/>
<line x1="39.50" y1="320.82" x2="155.10" y2="320.82" stroke="#333333" stroke-width="0.9" stroke-linecap="butt"/>
<line x1="39.50" y1="330.74" x2="155.10" y2="330.74" stroke="#333333" stroke-width="0.9" stroke-linecap="butt"/>
<line x1="39.50" y1="340.66" x2="155.10" y2="340.66" stroke="#333333" stroke-width="0.9" stroke-linecap="butt"/>
<line x1="39.50" y1="350.58" x2="155.10" y2="350.58" stroke="#333333" stroke-width="0.9" stroke-linecap="butt"/>
<line x1="39.50" y1="360.50" x2="155.10" y2="360.50" stroke="#333333" stroke-width="0.9" stroke-linecap="butt"/>
<line x1="39.50" y1="372.70" x2="155.10" y2="372.70" stroke="#333333" stroke-width="0.9" stroke-linecap="butt"/>
<line x1="39.50" y1="248.65" x2="39.50" y2="373.15" stroke="#333333" stroke-width="0.9" stroke-linecap="butt"/>
<line x1="51.06" y1="248.65" x2="51.06" y2="373.15" stroke="#333333" stroke-width="0.9" stroke-linecap="butt"/>
<line x1="62.62" y1="248.65" x2="62.62" y2="373.15" stroke="#333333" stroke-width="0.9" stroke-linecap="butt"/>
<line x1="74.18" y1="248.65" x2="74.18" y2="373.15" stroke="#333333" stroke-width="0.9" stroke-linecap="butt"/>
<line x1="85.74" y1="248.65" x2="85.74" y2="373.15" stroke="#333333" stroke-width="0.9" stroke-linecap="butt"/>
<line x1="97.30" y1="248.65" x2="97.30" y2="373.15" stroke="#333333" stroke-width="0.9" stroke-linecap="butt"/>
<line x1="108.86" y1="248.65" x2="108.86" y2="373.15" stroke="#333333" stroke-width="0.9" stroke-linecap="butt"/>
<line x1="120.42" y1="248.65" x2="120.42" y2="373.15" stroke="#333333" stroke-width="0.9" stroke-linecap="butt"/>
<line x1="131.98" y1="248.65" x2="131.98" y2="373.15" stroke="#333333" stroke-width="0.9" stroke-linecap="butt"/>
<line x1="143.54" y1="248.65" x2="143.54" y2="373.15" stroke="#333333" stroke-width="0.9" stroke-linecap="butt"/>
<line x1="155.10" y1="248.65" x2="155.10" y2="373.15" stroke="#333333" stroke-width="0.9" stroke-linecap="butt"/>
<text transform="translate(36.70,264.70) scale(1.05,1)" font-size="8.3" text-anchor="end" font-weight="normal" fill="#1c1a1b"  stroke="#1c1a1b" stroke-width="0.38">0</text>
<text transform="translate(36.70,274.62) scale(1.05,1)" font-size="8.3" text-anchor="end" font-weight="normal" fill="#1c1a1b"  stroke="#1c1a1b" stroke-width="0.38">10</text>
<text transform="translate(36.70,284.54) scale(1.05,1)" font-size="8.3" text-anchor="end" font-weight="normal" fill="#1c1a1b"  stroke="#1c1a1b" stroke-width="0.38">20</text>
<text transform="translate(36.70,294.46) scale(1.05,1)" font-size="8.3" text-anchor="end" font-weight="normal" fill="#1c1a1b"  stroke="#1c1a1b" stroke-width="0.38">30</text>
<text transform="translate(36.70,304.38) scale(1.05,1)" font-size="8.3" text-anchor="end" font-weight="normal" fill="#1c1a1b"  stroke="#1c1a1b" stroke-width="0.38">40</text>
<text transform="translate(36.70,314.30) scale(1.05,1)" font-size="8.3" text-anchor="end" font-weight="normal" fill="#1c1a1b"  stroke="#1c1a1b" stroke-width="0.38">50</text>
<text transform="translate(36.70,324.22) scale(1.05,1)" font-size="8.3" text-anchor="end" font-weight="normal" fill="#1c1a1b"  stroke="#1c1a1b" stroke-width="0.38">60</text>
<text transform="translate(36.70,334.14) scale(1.05,1)" font-size="8.3" text-anchor="end" font-weight="normal" fill="#1c1a1b"  stroke="#1c1a1b" stroke-width="0.38">70</text>
<text transform="translate(36.70,344.06) scale(1.05,1)" font-size="8.3" text-anchor="end" font-weight="normal" fill="#1c1a1b"  stroke="#1c1a1b" stroke-width="0.38">80</text>
<text transform="translate(36.70,353.98) scale(1.05,1)" font-size="8.3" text-anchor="end" font-weight="normal" fill="#1c1a1b"  stroke="#1c1a1b" stroke-width="0.38">90</text>
<text transform="translate(36.70,363.90) scale(1.05,1)" font-size="8.3" text-anchor="end" font-weight="normal" fill="#1c1a1b"  stroke="#1c1a1b" stroke-width="0.38">100</text>
<text transform="translate(55.76,381.20) rotate(-45)" font-size="8.7" text-anchor="end" font-weight="normal" fill="#1c1a1b"  stroke="#1c1a1b" stroke-width="0.12">0:30</text>
<text transform="translate(78.88,381.20) rotate(-45)" font-size="8.7" text-anchor="end" font-weight="normal" fill="#1c1a1b"  stroke="#1c1a1b" stroke-width="0.12">1:30</text>
<text transform="translate(102.00,381.20) rotate(-45)" font-size="8.7" text-anchor="end" font-weight="normal" fill="#1c1a1b"  stroke="#1c1a1b" stroke-width="0.12">2:30</text>
<text transform="translate(125.12,381.20) rotate(-45)" font-size="8.7" text-anchor="end" font-weight="normal" fill="#1c1a1b"  stroke="#1c1a1b" stroke-width="0.12">3:30</text>
<text transform="translate(148.24,381.20) rotate(-45)" font-size="8.7" text-anchor="end" font-weight="normal" fill="#1c1a1b"  stroke="#1c1a1b" stroke-width="0.12">4:30</text>
<text transform="translate(16.30,311.40) rotate(-90) scale(0.9,1)" font-size="9.5" text-anchor="middle" font-weight="normal" fill="#1c1a1b" letter-spacing="0.37" stroke="#1c1a1b" stroke-width="0.3">% aggregation</text>
<text transform="translate(106.30,407.60) scale(0.86,1)" font-size="10.2" text-anchor="middle" font-weight="normal" fill="#1c1a1b" letter-spacing="0.32" stroke="#1c1a1b" stroke-width="0.35">Time (min:sec)</text>
<text transform="translate(8.10,251.30) scale(0.97,1)" font-size="12.2" text-anchor="start" font-weight="normal" fill="#000"  stroke="#000" stroke-width="0.6">B</text>
<line x1="160.90" y1="337.70" x2="160.90" y2="371.20" stroke="#000" stroke-width="1.1" stroke-linecap="butt"/>
<text transform="translate(169.80,370.50) rotate(-90) scale(0.89,1)" font-size="8.9" text-anchor="start" font-weight="normal" fill="#1c1a1b"  stroke="#1c1a1b" stroke-width="0.3">ATP 1nM</text>
<clipPath id="clipB"><rect x="39.5" y="249.1" width="115.6" height="123.6"/></clipPath>
<g clip-path="url(#clipB)">
<path d="M47.6,262.0 L47.6,261.6 L47.7,261.1 L47.7,260.4 L47.8,259.8 L47.9,259.0 L47.9,258.2 L48.0,257.4 L48.1,256.6 L48.1,255.8 L48.2,255.0 L48.3,254.3 L48.3,253.6 L48.4,252.8 L48.4,252.0 L48.5,251.2 L48.6,250.4 L48.6,249.7 L48.7,248.9 L48.8,248.2 L48.9,247.6 L49.0,247.0 L49.2,246.1 L49.4,245.2 L49.6,244.5 L49.9,243.9 L50.2,243.4 L50.5,243.0 L51.3,242.6 L52.1,242.7 L53.0,243.0 L53.6,243.3 L54.2,243.7 L54.9,244.2 L55.5,245.0 L55.8,245.5 L56.2,246.0 L56.5,246.6 L56.8,247.2 L57.2,247.9 L57.5,248.7 L57.9,249.5 L58.2,250.4 L58.4,251.0 L58.6,251.6 L58.8,252.3 L59.0,253.0 L59.2,253.8 L59.4,254.5 L59.7,255.3 L59.9,256.1 L60.1,256.9 L60.3,257.7 L60.5,258.4 L60.7,259.1 L60.9,259.8 L61.1,260.5 L61.3,261.1 L61.5,261.8 L61.8,262.9 L62.0,263.5 L62.2,263.9 L62.4,264.5 L62.6,265.3 L62.8,265.8 L63.1,266.8 L63.3,267.2 L63.6,267.7 L63.9,268.8 L64.2,269.1 L64.5,269.9 L64.8,270.5 L65.2,271.1 L65.5,272.0 L65.9,272.3 L66.2,272.5 L66.6,272.9 L66.9,273.8 L67.3,274.5 L67.6,275.3 L68.1,276.0 L68.6,276.8 L69.1,277.2 L69.6,277.4 L70.1,277.9 L70.6,277.8 L71.2,278.9 L71.7,279.5 L72.3,279.9 L72.9,279.9 L73.6,280.2 L74.2,280.8 L74.9,280.6 L75.6,281.0 L76.4,280.9 L77.0,280.7 L77.6,281.0 L78.3,280.1 L78.9,280.0 L79.6,279.6 L80.3,279.3 L81.0,279.9 L81.7,279.7 L82.4,278.8 L83.1,278.8 L83.8,278.8 L84.6,278.4 L85.3,278.4 L86.0,277.3 L86.8,277.3 L87.5,277.5 L88.3,277.6 L89.0,276.9 L89.8,276.3 L90.4,276.3 L91.1,275.9 L91.7,275.6 L92.4,276.2 L93.0,275.2 L93.7,275.1 L94.4,275.6 L95.1,275.0 L95.8,274.5 L96.5,273.9 L97.2,274.0 L97.9,274.3 L98.6,273.7 L99.3,273.7 L100.1,273.1 L100.9,273.0 L101.6,272.6 L102.4,272.6 L103.1,272.7 L103.9,271.6 L104.6,271.9 L105.3,271.8 L106.0,271.4 L106.8,271.3 L107.5,271.6 L108.2,271.9 L108.9,271.4 L109.6,271.2 L110.3,270.5 L110.9,271.6 L111.6,270.9 L112.3,270.8 L113.0,270.4 L113.7,270.7 L114.4,270.3 L115.1,270.7 L115.8,270.7 L116.5,270.5 L117.2,270.6 L117.9,270.2 L118.7,270.9 L119.6,270.2 L120.5,269.8 L121.1,270.3 L121.8,270.1 L122.4,270.1 L123.1,270.3 L123.9,270.5 L124.6,270.0 L125.4,270.4 L126.1,271.0 L126.9,270.8 L127.7,270.5 L128.5,270.6 L129.2,270.6 L130.0,270.6 L130.8,270.9 L131.6,270.6 L132.3,269.9 L133.0,270.7 L133.7,270.4 L134.4,271.0 L135.1,270.6 L135.8,270.9 L136.5,271.6 L137.2,270.5 L137.9,270.5 L138.7,270.5 L139.4,270.2 L140.1,270.4 L140.8,271.2 L141.5,270.9 L142.2,270.5 L142.8,270.6 L143.5,271.4 L144.2,270.9 L145.0,271.1 L145.8,271.4 L146.6,271.8 L147.5,272.0 L148.3,271.7 L149.2,271.4 L150.0,271.4 L150.8,272.0 L151.6,271.9 L152.4,271.3 L153.1,271.6 L153.7,271.6 L154.3,271.5 L154.8,271.3 L155.2,271.0" fill="none" stroke="#3a3ac8" stroke-width="1.1" stroke-linejoin="round" />
<path d="M47.6,262.0 L47.6,261.6 L47.7,261.1 L47.7,260.4 L47.8,259.8 L47.9,259.0 L47.9,258.2 L48.0,257.4 L48.1,256.6 L48.1,255.8 L48.2,255.0 L48.3,254.3 L48.3,253.6 L48.4,252.8 L48.4,252.0 L48.5,251.2 L48.6,250.4 L48.6,249.7 L48.7,248.9 L48.8,248.2 L48.9,247.6 L49.0,247.0 L49.2,246.1 L49.4,245.2 L49.6,244.5 L49.9,243.9 L50.2,243.4 L50.5,243.0 L51.3,242.6 L52.1,242.7 L53.0,243.0 L53.6,243.3 L54.2,243.7 L54.9,244.2 L55.5,245.0 L55.8,245.5 L56.2,246.0 L56.5,246.6 L56.9,247.2 L57.2,247.9 L57.5,248.7 L57.9,249.5 L58.2,250.4 L58.4,251.0 L58.5,251.6 L58.7,252.3 L58.9,253.0 L59.0,253.7 L59.2,254.4 L59.4,255.2 L59.5,255.9 L59.7,256.7 L59.8,257.5 L60.0,258.2 L60.2,258.9 L60.3,259.6 L60.5,260.3 L60.7,261.0 L60.9,261.8 L61.1,262.5 L61.3,263.1 L61.5,264.0 L61.7,264.5 L62.0,265.4 L62.2,265.9 L62.4,266.6 L62.7,267.2 L62.9,267.7 L63.2,268.6 L63.5,269.3 L63.8,270.0 L64.1,270.6 L64.4,271.1 L64.8,271.6 L65.1,272.4 L65.5,273.0 L65.8,273.6 L66.2,274.5 L66.5,275.0 L66.9,275.4 L67.2,276.0 L67.7,276.7 L68.2,277.3 L68.7,278.0 L69.2,278.6 L69.7,278.7 L70.2,278.9 L70.7,279.9 L71.3,280.0 L72.0,280.6 L72.6,280.4 L73.3,281.0 L74.0,281.3 L74.8,281.2 L75.6,281.5 L76.4,281.7 L77.1,281.8 L77.8,281.8 L78.5,281.1 L79.3,280.8 L80.0,281.0 L80.8,280.9 L81.6,280.5 L82.3,279.9 L83.1,280.2 L83.8,280.0 L84.6,279.7 L85.3,279.3 L86.0,279.3 L86.8,279.2 L87.5,278.7 L88.3,278.3 L89.0,278.5 L89.8,278.3 L90.4,278.0 L91.1,278.0 L91.8,277.5 L92.5,277.3 L93.2,277.1 L93.8,277.0 L94.5,277.0 L95.2,276.4 L95.9,276.6 L96.5,276.3 L97.2,276.0 L97.9,275.7 L98.6,275.7 L99.3,275.1 L100.0,274.9 L100.7,274.5 L101.4,274.6 L102.1,274.6 L102.8,274.2 L103.4,274.1 L104.0,273.8 L104.8,273.6 L105.4,273.1 L106.0,273.4 L106.6,273.0 L107.3,272.7 L108.2,272.6 L109.2,272.4 L109.7,272.7 L110.3,272.7 L110.9,272.1 L111.6,272.5 L112.3,272.5 L113.0,272.1 L113.7,271.9 L114.4,272.0 L115.2,272.0 L116.0,272.1 L116.7,271.9 L117.5,271.6 L118.3,272.0 L119.0,271.6 L119.8,272.1 L120.5,271.7 L121.2,271.8 L122.0,271.7 L122.7,271.8 L123.4,272.2 L124.1,272.1 L124.9,272.1 L125.6,272.1 L126.4,271.8 L127.1,272.0 L127.8,272.1 L128.6,272.0 L129.3,272.4 L130.1,272.2 L130.8,272.2 L131.6,272.2 L132.3,272.1 L133.0,272.7 L133.7,272.9 L134.4,272.7 L135.1,272.6 L135.8,272.3 L136.5,272.9 L137.2,273.2 L137.9,273.1 L138.7,273.3 L139.4,273.5 L140.1,273.5 L140.8,273.3 L141.5,273.7 L142.2,273.7 L142.8,273.3 L143.5,273.6 L144.2,273.5 L145.0,273.9 L145.8,274.1 L146.6,273.9 L147.5,273.8 L148.3,274.6 L149.2,274.5 L150.0,274.9 L150.8,274.4 L151.6,275.0 L152.4,275.3 L153.1,275.4 L153.7,275.1 L154.3,275.2 L154.8,275.2 L155.2,275.5" fill="none" stroke="#333" stroke-width="0.7" stroke-linejoin="round" />
<path d="M47.3,262.0 L47.3,261.6 L47.4,261.1 L47.4,260.4 L47.5,259.8 L47.5,259.0 L47.6,258.2 L47.7,257.4 L47.8,256.6 L47.8,255.8 L47.9,255.0 L48.0,254.3 L48.0,253.6 L48.1,252.8 L48.2,252.0 L48.3,251.2 L48.3,250.4 L48.4,249.7 L48.5,248.9 L48.6,248.2 L48.7,247.6 L48.8,247.0 L49.0,246.1 L49.2,245.2 L49.5,244.5 L49.7,243.9 L50.0,243.4 L50.3,243.0 L51.0,242.6 L51.7,242.7 L52.5,243.0 L53.1,243.3 L53.7,243.7 L54.4,244.2 L55.0,245.0 L55.3,245.5 L55.6,246.0 L55.9,246.6 L56.2,247.2 L56.5,247.9 L56.9,248.7 L57.2,249.5 L57.5,250.4 L57.7,251.0 L57.9,251.6 L58.1,252.2 L58.3,252.9 L58.4,253.7 L58.6,254.4 L58.8,255.2 L59.0,255.9 L59.2,256.7 L59.4,257.4 L59.6,258.2 L59.8,258.9 L60.0,259.6 L60.2,260.3 L60.4,261.1 L60.6,261.9 L60.9,262.6 L61.1,263.3 L61.3,264.0 L61.5,264.7 L61.7,265.4 L62.0,266.1 L62.2,267.0 L62.5,267.5 L62.7,268.3 L63.0,269.1 L63.3,269.4 L63.6,270.5 L63.9,271.4 L64.2,271.5 L64.6,272.2 L64.9,272.9 L65.3,273.4 L65.6,274.7 L66.0,274.7 L66.3,276.0 L66.7,276.9 L67.0,276.5 L67.5,277.6 L67.9,277.8 L68.4,279.2 L68.8,279.3 L69.3,279.9 L69.8,280.5 L70.3,281.1 L70.8,281.3 L71.3,281.8 L72.0,282.1 L72.7,282.7 L73.4,282.6 L74.2,283.3 L74.9,282.9 L75.6,283.6 L76.4,284.6 L77.2,284.3 L78.0,284.1 L78.8,284.8 L79.6,284.7 L80.3,284.7 L81.1,285.1 L81.8,285.6 L82.6,285.5 L83.3,285.3 L84.0,284.9 L84.7,284.7 L85.3,285.3 L86.0,284.8 L86.7,284.2 L87.4,283.7 L88.0,283.7 L88.8,284.5 L89.8,283.1 L90.4,283.2 L91.0,283.0 L91.7,282.6 L92.4,282.2 L93.1,281.6 L93.9,281.4 L94.6,281.9 L95.3,280.8 L96.0,281.0 L96.6,280.0 L97.2,280.2 L98.2,280.0 L98.9,280.0 L99.6,279.1 L100.2,279.4 L101.0,279.1 L101.7,278.6 L102.4,278.8 L103.1,278.1 L103.8,278.0 L104.6,278.0 L105.4,277.0 L106.2,277.6 L106.9,277.1 L107.6,276.8 L108.3,276.9 L109.1,277.0 L109.8,276.5 L110.6,276.8 L111.4,275.9 L112.3,275.7 L113.0,276.5 L113.6,276.1 L114.3,276.1 L115.0,275.6 L115.7,276.0 L116.4,275.8 L117.2,275.9 L117.9,275.6 L118.8,276.0 L119.6,275.4 L120.5,275.3 L121.1,275.2 L121.8,276.0 L122.5,275.4 L123.2,275.3 L123.9,275.4 L124.7,275.6 L125.4,275.3 L126.2,275.7 L126.9,275.6 L127.7,275.7 L128.5,275.6 L129.3,275.9 L130.0,275.8 L130.8,276.0 L131.6,276.1 L132.3,276.2 L133.0,275.5 L133.7,276.0 L134.4,276.0 L135.1,276.5 L135.8,275.9 L136.5,276.2 L137.2,276.4 L137.9,276.4 L138.7,276.9 L139.4,276.5 L140.1,277.0 L140.8,276.4 L141.5,276.3 L142.2,277.3 L142.8,277.2 L143.5,277.3 L144.2,277.2 L145.0,277.5 L145.8,277.1 L146.6,277.9 L147.5,277.6 L148.3,278.2 L149.2,278.1 L150.0,277.6 L150.8,278.0 L151.6,278.8 L152.4,278.6 L153.1,278.7 L153.7,279.0 L154.3,278.9 L154.8,279.0 L155.2,279.2" fill="none" stroke="#9a5a5a" stroke-width="0.8" stroke-linejoin="round" />
<path d="M46.8,262.0 L46.8,261.6 L46.9,261.1 L46.9,260.4 L46.9,259.8 L47.0,259.0 L47.0,258.2 L47.1,257.4 L47.1,256.6 L47.2,255.8 L47.2,255.0 L47.2,254.3 L47.3,253.6 L47.3,252.8 L47.4,252.0 L47.5,251.2 L47.5,250.4 L47.6,249.7 L47.6,248.9 L47.7,248.2 L47.7,247.6 L47.8,247.0 L47.9,245.8 L48.1,244.8 L48.2,244.0 L48.4,243.4 L48.5,243.0 L48.7,243.1 L49.0,243.9 L49.3,245.0 L49.4,245.6 L49.6,246.2 L49.7,246.9 L49.8,247.7 L50.0,248.6 L50.2,249.5 L50.4,250.4 L50.6,251.0 L50.7,251.6 L50.9,252.3 L51.1,253.0 L51.3,253.7 L51.6,254.4 L51.8,255.1 L52.0,255.8 L52.2,256.5 L52.5,257.2 L52.7,257.9 L52.9,258.5 L53.1,259.2 L53.4,259.9 L53.6,260.5 L53.8,261.2 L54.1,261.8 L54.3,262.4 L54.5,263.1 L54.8,263.8 L55.0,264.5 L55.3,265.2 L55.5,265.8 L55.7,266.4 L56.0,267.0 L56.2,267.7 L56.4,268.3 L56.7,269.0 L56.9,269.7 L57.1,270.4 L57.4,271.1 L57.7,271.8 L57.9,272.5 L58.2,273.2 L58.5,273.9 L58.8,274.5 L59.0,275.2 L59.3,275.9 L59.6,276.5 L59.9,277.2 L60.2,278.0 L60.5,278.6 L60.8,279.4 L61.1,279.9 L61.4,280.7 L61.7,281.4 L62.0,282.2 L62.3,282.5 L62.6,283.2 L62.9,283.7 L63.3,284.7 L63.6,285.5 L64.0,285.7 L64.3,286.6 L64.7,287.5 L65.0,288.5 L65.4,288.9 L65.8,289.2 L66.1,289.5 L66.5,290.1 L66.9,290.8 L67.2,291.6 L67.6,292.1 L68.1,293.3 L68.5,293.5 L69.0,293.6 L69.5,295.1 L70.0,295.5 L70.5,295.7 L70.9,295.9 L71.4,296.0 L71.9,296.7 L72.3,297.8 L72.9,297.7 L73.5,298.0 L74.0,298.9 L74.6,299.3 L75.2,299.7 L75.8,300.1 L76.4,300.7 L77.0,300.3 L77.7,301.3 L78.3,300.9 L79.0,301.9 L79.7,302.1 L80.4,302.4 L81.1,303.0 L81.8,302.9 L82.6,303.5 L83.3,303.6 L84.1,303.5 L84.9,303.4 L85.6,303.4 L86.4,303.6 L87.1,303.7 L87.8,303.8 L88.5,304.8 L89.2,304.0 L89.9,304.0 L90.6,303.3 L91.3,303.3 L92.0,303.3 L92.7,303.4 L93.4,302.8 L94.1,303.6 L94.8,302.7 L95.6,303.1 L96.4,301.8 L97.2,302.4 L97.9,302.4 L98.6,302.2 L99.4,302.2 L100.2,301.9 L101.0,301.7 L101.8,300.8 L102.6,301.0 L103.3,300.3 L104.0,301.2 L104.8,300.9 L105.4,300.6 L106.0,300.3 L106.6,300.2 L107.3,300.9 L108.2,300.7 L109.2,299.9 L109.7,300.3 L110.3,299.1 L111.0,298.9 L111.6,299.3 L112.3,299.1 L113.0,299.1 L113.8,299.2 L114.5,300.1 L115.3,298.7 L116.1,298.8 L116.8,298.7 L117.6,298.5 L118.4,298.7 L119.1,298.9 L119.8,297.8 L120.5,298.2 L121.3,297.9 L122.1,298.0 L122.8,297.2 L123.6,297.0 L124.4,296.7 L125.2,297.6 L126.0,297.4 L126.7,297.2 L127.5,296.3 L128.2,296.9 L128.9,296.7 L129.6,296.4 L130.2,296.5 L130.8,297.0 L131.8,297.0 L132.6,296.8 L133.4,297.1 L134.1,296.8 L134.8,297.2 L135.5,297.3 L136.2,297.6 L137.0,297.5 L137.7,297.5 L138.3,297.6 L139.0,297.5 L139.6,298.6 L140.3,298.1 L141.0,298.2 L141.7,298.9 L142.5,298.7 L143.3,297.8 L144.2,298.6 L144.8,298.8 L145.6,299.2 L146.3,299.0 L147.1,298.9 L148.0,298.3 L148.9,298.5 L149.7,298.9 L150.6,299.1 L151.4,298.6 L152.2,298.9 L153.0,298.9 L153.6,299.1 L154.3,299.3 L154.8,299.1 L155.2,298.8" fill="none" stroke="#2a2a2a" stroke-width="0.9" stroke-linejoin="round" />
<path d="M46.8,262.0 L46.8,261.6 L46.9,261.1 L46.9,260.4 L46.9,259.8 L47.0,259.0 L47.0,258.2 L47.1,257.4 L47.1,256.6 L47.2,255.8 L47.2,255.0 L47.2,254.3 L47.3,253.6 L47.3,252.8 L47.4,252.0 L47.5,251.2 L47.5,250.4 L47.6,249.7 L47.6,248.9 L47.7,248.2 L47.7,247.6 L47.8,247.0 L47.9,245.8 L48.1,244.8 L48.2,244.0 L48.4,243.4 L48.5,243.0 L48.7,243.1 L49.0,243.9 L49.3,245.0 L49.4,245.6 L49.6,246.2 L49.7,246.9 L49.8,247.7 L50.0,248.5 L50.2,249.4 L50.4,250.4 L50.5,251.0 L50.7,251.6 L50.9,252.3 L51.0,253.0 L51.2,253.8 L51.4,254.5 L51.6,255.2 L51.7,256.0 L51.9,256.7 L52.1,257.4 L52.3,258.1 L52.5,258.8 L52.7,259.5 L52.9,260.3 L53.1,260.9 L53.4,261.6 L53.6,262.3 L53.8,262.9 L54.0,263.6 L54.3,264.3 L54.5,265.0 L54.8,265.8 L55.0,266.4 L55.2,267.1 L55.5,267.7 L55.7,268.4 L55.9,269.1 L56.1,269.7 L56.4,270.4 L56.6,271.1 L56.9,271.9 L57.2,272.6 L57.4,273.3 L57.7,274.1 L58.0,274.8 L58.2,275.4 L58.5,276.0 L58.7,276.7 L59.0,277.3 L59.3,278.0 L59.5,278.7 L59.8,279.4 L60.1,280.0 L60.4,280.7 L60.7,281.4 L61.0,282.1 L61.3,282.7 L61.5,283.3 L61.8,284.0 L62.1,284.7 L62.4,285.4 L62.8,286.0 L63.1,286.3 L63.5,287.2 L63.8,288.3 L64.2,288.4 L64.5,289.7 L64.9,290.6 L65.3,290.9 L65.6,291.7 L66.0,291.8 L66.4,292.1 L66.7,293.0 L67.1,293.5 L67.6,294.3 L68.0,295.2 L68.5,295.5 L69.0,296.2 L69.5,296.9 L69.9,297.3 L70.4,298.4 L70.9,298.4 L71.3,298.8 L71.8,299.1 L72.4,299.5 L72.9,300.6 L73.5,300.6 L74.1,300.6 L74.6,301.1 L75.2,301.7 L75.8,301.9 L76.4,302.9 L77.0,302.5 L77.5,303.5 L78.1,303.8 L78.8,303.8 L79.4,304.7 L80.0,305.0 L80.6,305.7 L81.2,305.7 L81.8,306.3 L82.5,306.0 L83.1,306.5 L83.8,307.4 L84.5,307.8 L85.1,307.7 L85.8,307.7 L86.5,308.5 L87.1,307.6 L87.8,308.2 L88.5,308.9 L89.2,309.1 L89.9,308.6 L90.6,308.4 L91.3,309.7 L92.0,309.4 L92.7,309.1 L93.4,309.5 L94.1,309.9 L94.8,308.7 L95.6,310.1 L96.4,310.0 L97.2,309.1 L97.9,310.1 L98.6,309.2 L99.4,310.3 L100.2,310.0 L101.0,310.7 L101.8,309.7 L102.6,309.9 L103.3,310.3 L104.0,309.8 L104.8,309.8 L105.4,309.9 L106.0,310.1 L106.6,309.7 L107.3,310.3 L108.2,310.5 L109.2,310.4 L109.7,311.1 L110.3,310.4 L110.9,311.1 L111.6,310.5 L112.3,311.1 L113.0,310.2 L113.7,311.1 L114.4,311.1 L115.2,311.1 L116.0,311.2 L116.7,311.4 L117.5,311.4 L118.3,311.0 L119.0,311.7 L119.8,311.9 L120.5,312.0 L121.2,312.0 L121.9,312.5 L122.6,313.0 L123.2,312.8 L123.9,312.9 L124.6,313.7 L125.3,313.8 L126.0,313.9 L126.7,314.2 L127.4,313.9 L128.1,314.2 L128.8,314.8 L129.5,314.4 L130.2,314.7 L130.9,315.1 L131.6,315.3 L132.3,315.2 L133.0,315.8 L133.7,315.5 L134.4,316.0 L135.1,316.3 L135.8,316.3 L136.5,316.5 L137.2,315.9 L137.9,316.0 L138.7,316.4 L139.4,316.9 L140.1,317.4 L140.8,316.6 L141.5,317.2 L142.2,316.9 L142.8,317.1 L143.5,317.4 L144.2,317.8 L145.0,317.8 L145.8,318.3 L146.6,317.6 L147.5,318.4 L148.3,318.6 L149.2,318.4 L150.0,318.7 L150.8,318.4 L151.6,318.3 L152.4,318.7 L153.1,318.7 L153.7,320.0 L154.3,318.9 L154.8,319.7 L155.2,319.3" fill="none" stroke="#3a3ac8" stroke-width="1.1" stroke-linejoin="round" />
<path d="M39.80,359.30 C40.50,359.30 42.72,359.32 44.00,359.30 C45.28,359.28 46.70,359.33 47.50,359.20 C48.30,359.07 48.38,359.53 48.80,358.50 C49.22,357.47 49.60,355.00 50.00,353.00 C50.40,351.00 50.78,348.58 51.20,346.50 C51.62,344.42 51.87,342.75 52.50,340.50 C53.13,338.25 53.95,334.75 55.00,333.00 C56.05,331.25 57.55,330.58 58.80,330.00 C60.05,329.42 61.13,329.53 62.50,329.50 C63.87,329.47 65.33,329.63 67.00,329.80 C68.67,329.97 69.50,330.05 72.50,330.50 C75.50,330.95 80.83,331.87 85.00,332.50 C89.17,333.13 93.33,333.72 97.50,334.30 C101.67,334.88 105.92,335.52 110.00,336.00 C114.08,336.48 117.83,336.87 122.00,337.20 C126.17,337.53 131.17,337.73 135.00,338.00 C138.83,338.27 141.63,338.58 145.00,338.80 C148.37,339.02 153.50,339.22 155.20,339.30" fill="none" stroke="#6a6ac0" stroke-width="0.8" stroke-linejoin="round" />
<path d="M39.80,359.30 C40.50,359.30 42.72,359.32 44.00,359.30 C45.28,359.28 46.70,359.33 47.50,359.20 C48.30,359.07 48.35,359.28 48.80,358.50 C49.25,357.72 49.75,356.08 50.20,354.50 C50.65,352.92 51.03,350.83 51.50,349.00 C51.97,347.17 52.42,345.33 53.00,343.50 C53.58,341.67 54.03,339.53 55.00,338.00 C55.97,336.47 57.55,335.05 58.80,334.30 C60.05,333.55 61.13,333.47 62.50,333.50 C63.87,333.53 65.33,334.08 67.00,334.50 C68.67,334.92 69.50,335.20 72.50,336.00 C75.50,336.80 80.83,338.42 85.00,339.30 C89.17,340.18 93.33,340.77 97.50,341.30 C101.67,341.83 105.92,342.13 110.00,342.50 C114.08,342.87 117.83,343.20 122.00,343.50 C126.17,343.80 131.17,344.05 135.00,344.30 C138.83,344.55 141.63,344.80 145.00,345.00 C148.37,345.20 153.50,345.42 155.20,345.50" fill="none" stroke="#8a8a8a" stroke-width="0.7" stroke-linejoin="round" />
<path d="M39.80,359.30 C40.50,359.30 42.72,359.32 44.00,359.30 C45.28,359.28 46.70,359.33 47.50,359.20 C48.30,359.07 48.35,358.90 48.80,358.50 C49.25,358.10 49.78,357.30 50.20,356.80 C50.62,356.30 50.83,356.20 51.30,355.50 C51.77,354.80 52.38,353.43 53.00,352.60 C53.62,351.77 54.03,351.18 55.00,350.50 C55.97,349.82 57.55,348.87 58.80,348.50 C60.05,348.13 61.13,348.18 62.50,348.30 C63.87,348.42 65.33,348.92 67.00,349.20 C68.67,349.48 69.50,349.77 72.50,350.00 C75.50,350.23 80.83,350.43 85.00,350.60 C89.17,350.77 91.33,350.87 97.50,351.00 C103.67,351.13 112.38,351.27 122.00,351.40 C131.62,351.53 149.67,351.73 155.20,351.80" fill="none" stroke="#b07a6a" stroke-width="0.7" stroke-linejoin="round" />
<path d="M39.80,359.30 C40.50,359.30 42.72,359.32 44.00,359.30 C45.28,359.28 46.70,359.33 47.50,359.20 C48.30,359.07 48.32,358.83 48.80,358.50 C49.28,358.17 49.93,357.62 50.40,357.20 C50.87,356.78 51.12,356.62 51.60,356.00 C52.08,355.38 52.68,354.23 53.30,353.50 C53.92,352.77 54.35,352.22 55.30,351.60 C56.25,350.98 57.75,350.13 59.00,349.80 C60.25,349.47 61.47,349.50 62.80,349.60 C64.13,349.70 65.38,350.13 67.00,350.40 C68.62,350.67 69.50,350.95 72.50,351.20 C75.50,351.45 80.83,351.70 85.00,351.90 C89.17,352.10 91.33,352.25 97.50,352.40 C103.67,352.55 112.38,352.65 122.00,352.80 C131.62,352.95 149.67,353.22 155.20,353.30" fill="none" stroke="#b8b890" stroke-width="0.7" stroke-linejoin="round" />
<path d="M39.80,359.30 C40.50,359.30 42.72,359.32 44.00,359.30 C45.28,359.28 46.70,359.33 47.50,359.20 C48.30,359.07 48.33,358.88 48.80,358.50 C49.27,358.12 49.85,357.42 50.30,356.90 C50.75,356.38 51.05,356.22 51.50,355.40 C51.95,354.58 52.42,352.98 53.00,352.00 C53.58,351.02 54.03,350.27 55.00,349.50 C55.97,348.73 57.55,347.78 58.80,347.40 C60.05,347.02 61.13,347.10 62.50,347.20 C63.87,347.30 65.33,347.73 67.00,348.00 C68.67,348.27 69.50,348.57 72.50,348.80 C75.50,349.03 80.83,349.23 85.00,349.40 C89.17,349.57 91.33,349.67 97.50,349.80 C103.67,349.93 112.38,350.08 122.00,350.20 C131.62,350.32 149.67,350.45 155.20,350.50" fill="none" stroke="#777" stroke-width="0.6" stroke-linejoin="round" />
</g>
<line x1="39.50" y1="261.20" x2="47.20" y2="261.20" stroke="#111" stroke-width="2.2" stroke-linecap="butt"/>
<line x1="40.10" y1="249.10" x2="40.10" y2="261.40" stroke="#222" stroke-width="1.3" stroke-linecap="butt"/>
<line x1="40.50" y1="262.00" x2="40.50" y2="359.50" stroke="#3a3ac8" stroke-width="0.9" stroke-linecap="butt"/>
<line x1="42.00" y1="262.00" x2="42.00" y2="359.50" stroke="#5a5ad0" stroke-width="0.8" stroke-linecap="butt"/>
<line x1="46.50" y1="281.30" x2="46.50" y2="268.50" stroke="#000" stroke-width="1.3" stroke-linecap="butt"/>
<path d="M46.5,265 L44.3,269.4 L48.7,269.4 Z" fill="#000"/>
<text transform="translate(45.20,319.70)" font-size="8.2" text-anchor="start" font-weight="normal" fill="#1c1a1b" >PDI<tspan dy="-3.77" font-size="4.59" font-weight="bold">fl/fl</tspan></text>
<line x1="68.60" y1="315.60" x2="79.75" y2="311.25" stroke="#000" stroke-width="1.3" stroke-linecap="butt"/>
<path d="M83.20,309.90 L80.01,313.29 L78.56,309.56 Z" fill="#000"/>
<line x1="68.60" y1="318.20" x2="80.91" y2="328.08" stroke="#000" stroke-width="1.3" stroke-linecap="butt"/>
<path d="M83.80,330.40 L79.27,329.33 L81.78,326.21 Z" fill="#000"/>
<line x1="37.40" y1="419.00" x2="46.90" y2="419.00" stroke="#9090c0" stroke-width="1.6" stroke-linecap="butt"/>
<text transform="translate(50.00,422.00)" font-size="6.9" text-anchor="start" font-weight="normal" fill="#333" >PDI<tspan dy="-3.11" font-size="5.11" font-weight="bold">fl/fl</tspan></text>
<line x1="37.40" y1="431.90" x2="46.90" y2="431.90" stroke="#274b6e" stroke-width="1.6" stroke-linecap="butt"/>
<text transform="translate(50.00,434.90)" font-size="6.9" text-anchor="start" font-weight="normal" fill="#333" >Pf4-Cre/PDI<tspan dy="-3.11" font-size="5.11" font-weight="bold">fl/fl</tspan></text>
<line x1="37.40" y1="444.90" x2="46.90" y2="444.90" stroke="#9a1030" stroke-width="1.6" stroke-linecap="butt"/>
<text transform="translate(50.00,447.90)" font-size="6.9" text-anchor="start" font-weight="normal" fill="#333" >Pf4-Cre/PDI<tspan dy="-3.11" font-size="5.11" font-weight="bold">fl/fl</tspan><tspan dy="3.11" font-weight="normal"> + ERp57</tspan></text>
<line x1="37.40" y1="457.80" x2="46.90" y2="457.80" stroke="#c4c4a8" stroke-width="1.6" stroke-linecap="butt"/>
<text transform="translate(50.00,460.80)" font-size="6.9" text-anchor="start" font-weight="normal" fill="#333" >Pf4-Cre/PDI<tspan dy="-3.11" font-size="5.11" font-weight="bold">fl/fl</tspan><tspan dy="3.11" font-weight="normal"> + ERp72</tspan></text>
<line x1="37.40" y1="470.80" x2="46.90" y2="470.80" stroke="#0a0a0a" stroke-width="1.6" stroke-linecap="butt"/>
<text transform="translate(50.00,473.80)" font-size="6.9" text-anchor="start" font-weight="normal" fill="#333" >Pf4-Cre/PDI<tspan dy="-3.11" font-size="5.11" font-weight="bold">fl/fl</tspan><tspan dy="3.11" font-weight="normal"> + PDI</tspan></text>
<rect x="229.00" y="273.90" width="12.40" height="86.50" fill="#a80a2b"/>
<rect x="252.90" y="340.50" width="12.40" height="19.89" fill="#a80a2b"/>
<line x1="259.10" y1="340.81" x2="259.10" y2="336.61" stroke="#2e2a2a" stroke-width="1.4" stroke-linecap="butt"/>
<line x1="255.20" y1="336.61" x2="263.00" y2="336.61" stroke="#2e2a2a" stroke-width="1.3" stroke-linecap="butt"/>
<rect x="277.10" y="330.12" width="12.40" height="30.27" fill="#a80a2b"/>
<line x1="283.30" y1="330.43" x2="283.30" y2="326.23" stroke="#2e2a2a" stroke-width="1.4" stroke-linecap="butt"/>
<line x1="279.40" y1="326.23" x2="287.20" y2="326.23" stroke="#2e2a2a" stroke-width="1.3" stroke-linecap="butt"/>
<rect x="300.50" y="338.77" width="12.40" height="21.62" fill="#a80a2b"/>
<line x1="306.70" y1="339.07" x2="306.70" y2="333.58" stroke="#2e2a2a" stroke-width="1.4" stroke-linecap="butt"/>
<line x1="302.80" y1="333.58" x2="310.60" y2="333.58" stroke="#2e2a2a" stroke-width="1.3" stroke-linecap="butt"/>
<rect x="324.60" y="295.09" width="12.40" height="65.31" fill="#a80a2b"/>
<line x1="330.80" y1="295.39" x2="330.80" y2="290.77" stroke="#2e2a2a" stroke-width="1.4" stroke-linecap="butt"/>
<line x1="326.90" y1="290.77" x2="334.70" y2="290.77" stroke="#2e2a2a" stroke-width="1.3" stroke-linecap="butt"/>
<line x1="223.50" y1="249.27" x2="223.50" y2="361.10" stroke="#000" stroke-width="1.4" stroke-linecap="butt"/>
<line x1="222.80" y1="360.40" x2="342.00" y2="360.40" stroke="#000" stroke-width="1.4" stroke-linecap="butt"/>
<line x1="220.10" y1="360.40" x2="223.50" y2="360.40" stroke="#000" stroke-width="1.2" stroke-linecap="butt"/>
<text transform="translate(217.10,363.80) scale(1.05,1)" font-size="8.0" text-anchor="end" font-weight="normal" fill="#1c1a1b"  stroke="#1c1a1b" stroke-width="0.3">0</text>
<line x1="220.10" y1="338.77" x2="223.50" y2="338.77" stroke="#000" stroke-width="1.2" stroke-linecap="butt"/>
<text transform="translate(217.10,342.17) scale(1.05,1)" font-size="8.0" text-anchor="end" font-weight="normal" fill="#1c1a1b"  stroke="#1c1a1b" stroke-width="0.3">25</text>
<line x1="220.10" y1="317.15" x2="223.50" y2="317.15" stroke="#000" stroke-width="1.2" stroke-linecap="butt"/>
<text transform="translate(217.10,320.55) scale(1.05,1)" font-size="8.0" text-anchor="end" font-weight="normal" fill="#1c1a1b"  stroke="#1c1a1b" stroke-width="0.3">50</text>
<line x1="220.10" y1="295.52" x2="223.50" y2="295.52" stroke="#000" stroke-width="1.2" stroke-linecap="butt"/>
<text transform="translate(217.10,298.92) scale(1.05,1)" font-size="8.0" text-anchor="end" font-weight="normal" fill="#1c1a1b"  stroke="#1c1a1b" stroke-width="0.3">75</text>
<line x1="220.10" y1="273.90" x2="223.50" y2="273.90" stroke="#000" stroke-width="1.2" stroke-linecap="butt"/>
<text transform="translate(217.10,277.30) scale(1.05,1)" font-size="8.0" text-anchor="end" font-weight="normal" fill="#1c1a1b"  stroke="#1c1a1b" stroke-width="0.3">100</text>
<line x1="220.10" y1="252.27" x2="223.50" y2="252.27" stroke="#000" stroke-width="1.2" stroke-linecap="butt"/>
<text transform="translate(217.10,255.67) scale(1.05,1)" font-size="8.0" text-anchor="end" font-weight="normal" fill="#1c1a1b"  stroke="#1c1a1b" stroke-width="0.3">125</text>
<line x1="235.20" y1="360.40" x2="235.20" y2="364.20" stroke="#000" stroke-width="1.2" stroke-linecap="butt"/>
<line x1="259.10" y1="360.40" x2="259.10" y2="364.20" stroke="#000" stroke-width="1.2" stroke-linecap="butt"/>
<line x1="283.30" y1="360.40" x2="283.30" y2="364.20" stroke="#000" stroke-width="1.2" stroke-linecap="butt"/>
<line x1="306.70" y1="360.40" x2="306.70" y2="364.20" stroke="#000" stroke-width="1.2" stroke-linecap="butt"/>
<line x1="330.80" y1="360.40" x2="330.80" y2="364.20" stroke="#000" stroke-width="1.2" stroke-linecap="butt"/>
<text transform="translate(196.70,305.10) rotate(-90) scale(0.9,1)" font-size="9.3" text-anchor="middle" font-weight="normal" fill="#1c1a1b" letter-spacing="0.42" stroke="#1c1a1b" stroke-width="0.3">% aggregation</text>
<text transform="translate(241.00,371.70) rotate(-45)" font-size="8.6" text-anchor="end" font-weight="normal" fill="#1c1a1b"  stroke="#1c1a1b" stroke-width="0.12">PDI<tspan dy="-3.53" font-size="5.85" font-weight="bold">fl/fl</tspan></text>
<text transform="translate(289.10,371.70) rotate(-45)" font-size="8.6" text-anchor="end" font-weight="normal" fill="#1c1a1b"  stroke="#1c1a1b" stroke-width="0.12">ERp57</text>
<text transform="translate(312.50,371.70) rotate(-45)" font-size="8.6" text-anchor="end" font-weight="normal" fill="#1c1a1b"  stroke="#1c1a1b" stroke-width="0.12">ERp72</text>
<text transform="translate(336.60,371.70) rotate(-45)" font-size="8.6" text-anchor="end" font-weight="normal" fill="#1c1a1b"  stroke="#1c1a1b" stroke-width="0.12">PDI</text>
<line x1="234.30" y1="269.80" x2="256.60" y2="269.80" stroke="#000" stroke-width="1.25" stroke-linecap="butt"/>
<text transform="translate(245.80,268.30)" font-size="9.0" text-anchor="middle" font-weight="bold" fill="#000" letter-spacing="0.55" stroke="#000" stroke-width="0.25">***</text>
<line x1="260.40" y1="269.80" x2="332.00" y2="269.80" stroke="#000" stroke-width="1.25" stroke-linecap="butt"/>
<text transform="translate(295.90,268.30)" font-size="9.0" text-anchor="middle" font-weight="bold" fill="#000" letter-spacing="0.55" stroke="#000" stroke-width="0.25">***</text>
<line x1="281.30" y1="278.80" x2="330.20" y2="278.80" stroke="#000" stroke-width="1.25" stroke-linecap="butt"/>
<text transform="translate(306.30,277.30)" font-size="9.0" text-anchor="middle" font-weight="bold" fill="#000" letter-spacing="0.55" stroke="#000" stroke-width="0.25">***</text>
<line x1="308.00" y1="286.70" x2="330.60" y2="286.70" stroke="#000" stroke-width="1.25" stroke-linecap="butt"/>
<text transform="translate(319.80,285.20)" font-size="9.0" text-anchor="middle" font-weight="bold" fill="#000" letter-spacing="0.55" stroke="#000" stroke-width="0.25">***</text>
<line x1="258.30" y1="324.10" x2="282.50" y2="324.10" stroke="#000" stroke-width="1.25" stroke-linecap="butt"/>
<text transform="translate(270.40,320.30) scale(0.99,1)" font-size="8.0" text-anchor="middle" font-weight="normal" fill="#1a1a1a"  stroke="#1a1a1a" stroke-width="0.2">NS</text>
<path d="M254.80,395.00 L254.80,400.10 L337.00,400.10 L337.00,395.00" fill="none" stroke="#000" stroke-width="1.0" stroke-linejoin="round" />
<text transform="translate(296.00,414.80)" font-size="8.5" text-anchor="middle" font-weight="normal" fill="#1c1a1b"  stroke="#1c1a1b" stroke-width="0.1">Pf4-Cre/PDI<tspan dy="-3.48" font-size="5.78" font-weight="bold">fl/fl</tspan></text>
<rect x="399.50" y="274.50" width="12.40" height="86.20" fill="#a80a2b"/>
<rect x="423.60" y="334.41" width="12.40" height="26.29" fill="#a80a2b"/>
<line x1="429.80" y1="334.71" x2="429.80" y2="329.93" stroke="#2e2a2a" stroke-width="1.4" stroke-linecap="butt"/>
<line x1="425.90" y1="329.93" x2="433.70" y2="329.93" stroke="#2e2a2a" stroke-width="1.3" stroke-linecap="butt"/>
<rect x="447.10" y="338.29" width="12.40" height="22.41" fill="#a80a2b"/>
<line x1="453.30" y1="338.59" x2="453.30" y2="334.15" stroke="#2e2a2a" stroke-width="1.4" stroke-linecap="butt"/>
<line x1="449.40" y1="334.15" x2="457.20" y2="334.15" stroke="#2e2a2a" stroke-width="1.3" stroke-linecap="butt"/>
<rect x="470.70" y="340.87" width="12.40" height="19.83" fill="#a80a2b"/>
<line x1="476.90" y1="341.17" x2="476.90" y2="337.60" stroke="#2e2a2a" stroke-width="1.4" stroke-linecap="butt"/>
<line x1="473.00" y1="337.60" x2="480.80" y2="337.60" stroke="#2e2a2a" stroke-width="1.3" stroke-linecap="butt"/>
<rect x="494.90" y="294.33" width="12.40" height="66.37" fill="#a80a2b"/>
<line x1="501.10" y1="294.63" x2="501.10" y2="289.84" stroke="#2e2a2a" stroke-width="1.4" stroke-linecap="butt"/>
<line x1="497.20" y1="289.84" x2="505.00" y2="289.84" stroke="#2e2a2a" stroke-width="1.3" stroke-linecap="butt"/>
<line x1="394.00" y1="249.95" x2="394.00" y2="361.40" stroke="#000" stroke-width="1.4" stroke-linecap="butt"/>
<line x1="393.30" y1="360.70" x2="512.00" y2="360.70" stroke="#000" stroke-width="1.4" stroke-linecap="butt"/>
<line x1="390.60" y1="360.70" x2="394.00" y2="360.70" stroke="#000" stroke-width="1.2" stroke-linecap="butt"/>
<text transform="translate(387.60,364.10) scale(1.05,1)" font-size="8.0" text-anchor="end" font-weight="normal" fill="#1c1a1b"  stroke="#1c1a1b" stroke-width="0.3">0</text>
<line x1="390.60" y1="339.15" x2="394.00" y2="339.15" stroke="#000" stroke-width="1.2" stroke-linecap="butt"/>
<text transform="translate(387.60,342.55) scale(1.05,1)" font-size="8.0" text-anchor="end" font-weight="normal" fill="#1c1a1b"  stroke="#1c1a1b" stroke-width="0.3">25</text>
<line x1="390.60" y1="317.60" x2="394.00" y2="317.60" stroke="#000" stroke-width="1.2" stroke-linecap="butt"/>
<text transform="translate(387.60,321.00) scale(1.05,1)" font-size="8.0" text-anchor="end" font-weight="normal" fill="#1c1a1b"  stroke="#1c1a1b" stroke-width="0.3">50</text>
<line x1="390.60" y1="296.05" x2="394.00" y2="296.05" stroke="#000" stroke-width="1.2" stroke-linecap="butt"/>
<text transform="translate(387.60,299.45) scale(1.05,1)" font-size="8.0" text-anchor="end" font-weight="normal" fill="#1c1a1b"  stroke="#1c1a1b" stroke-width="0.3">75</text>
<line x1="390.60" y1="274.50" x2="394.00" y2="274.50" stroke="#000" stroke-width="1.2" stroke-linecap="butt"/>
<text transform="translate(387.60,277.90) scale(1.05,1)" font-size="8.0" text-anchor="end" font-weight="normal" fill="#1c1a1b"  stroke="#1c1a1b" stroke-width="0.3">100</text>
<line x1="390.60" y1="252.95" x2="394.00" y2="252.95" stroke="#000" stroke-width="1.2" stroke-linecap="butt"/>
<text transform="translate(387.60,256.35) scale(1.05,1)" font-size="8.0" text-anchor="end" font-weight="normal" fill="#1c1a1b"  stroke="#1c1a1b" stroke-width="0.3">125</text>
<line x1="405.70" y1="360.70" x2="405.70" y2="364.50" stroke="#000" stroke-width="1.2" stroke-linecap="butt"/>
<line x1="429.80" y1="360.70" x2="429.80" y2="364.50" stroke="#000" stroke-width="1.2" stroke-linecap="butt"/>
<line x1="453.30" y1="360.70" x2="453.30" y2="364.50" stroke="#000" stroke-width="1.2" stroke-linecap="butt"/>
<line x1="476.90" y1="360.70" x2="476.90" y2="364.50" stroke="#000" stroke-width="1.2" stroke-linecap="butt"/>
<line x1="501.10" y1="360.70" x2="501.10" y2="364.50" stroke="#000" stroke-width="1.2" stroke-linecap="butt"/>
<text transform="translate(366.50,305.30) rotate(-90) scale(0.9,1)" font-size="9.3" text-anchor="middle" font-weight="normal" fill="#1c1a1b" letter-spacing="0.2" stroke="#1c1a1b" stroke-width="0.3">% ATP release</text>
<text transform="translate(411.50,372.00) rotate(-45)" font-size="8.6" text-anchor="end" font-weight="normal" fill="#1c1a1b"  stroke="#1c1a1b" stroke-width="0.12">PDI<tspan dy="-3.53" font-size="5.85" font-weight="bold">fl/fl</tspan></text>
<text transform="translate(459.10,372.00) rotate(-45)" font-size="8.6" text-anchor="end" font-weight="normal" fill="#1c1a1b"  stroke="#1c1a1b" stroke-width="0.12">ERp57</text>
<text transform="translate(482.70,372.00) rotate(-45)" font-size="8.6" text-anchor="end" font-weight="normal" fill="#1c1a1b"  stroke="#1c1a1b" stroke-width="0.12">ERp72</text>
<text transform="translate(506.90,372.00) rotate(-45)" font-size="8.6" text-anchor="end" font-weight="normal" fill="#1c1a1b"  stroke="#1c1a1b" stroke-width="0.12">PDI</text>
<line x1="405.80" y1="270.50" x2="429.00" y2="270.50" stroke="#000" stroke-width="1.25" stroke-linecap="butt"/>
<text transform="translate(418.20,269.00)" font-size="9.0" text-anchor="middle" font-weight="bold" fill="#000" letter-spacing="0.55" stroke="#000" stroke-width="0.25">***</text>
<line x1="431.70" y1="270.50" x2="502.70" y2="270.50" stroke="#000" stroke-width="1.25" stroke-linecap="butt"/>
<text transform="translate(468.30,269.00)" font-size="9.0" text-anchor="middle" font-weight="bold" fill="#000" letter-spacing="0.55" stroke="#000" stroke-width="0.25">***</text>
<line x1="454.20" y1="279.10" x2="502.70" y2="279.10" stroke="#000" stroke-width="1.25" stroke-linecap="butt"/>
<text transform="translate(478.10,277.60)" font-size="9.0" text-anchor="middle" font-weight="bold" fill="#000" letter-spacing="0.55" stroke="#000" stroke-width="0.25">***</text>
<line x1="480.20" y1="287.40" x2="502.70" y2="287.40" stroke="#000" stroke-width="1.25" stroke-linecap="butt"/>
<text transform="translate(491.60,285.90)" font-size="9.0" text-anchor="middle" font-weight="bold" fill="#000" letter-spacing="0.55" stroke="#000" stroke-width="0.25">***</text>
<path d="M425.40,395.50 L425.40,400.40 L507.50,400.40 L507.50,395.50" fill="none" stroke="#000" stroke-width="1.0" stroke-linejoin="round" />
<text transform="translate(466.40,415.40)" font-size="8.5" text-anchor="middle" font-weight="normal" fill="#1c1a1b"  stroke="#1c1a1b" stroke-width="0.1">Pf4-Cre/PDI<tspan dy="-3.48" font-size="5.78" font-weight="bold">fl/fl</tspan></text>
<line x1="39.50" y1="500.50" x2="155.10" y2="500.50" stroke="#333333" stroke-width="0.9" stroke-linecap="butt"/>
<line x1="39.50" y1="512.80" x2="155.10" y2="512.80" stroke="#333333" stroke-width="0.9" stroke-linecap="butt"/>
<line x1="39.50" y1="522.68" x2="155.10" y2="522.68" stroke="#333333" stroke-width="0.9" stroke-linecap="butt"/>
<line x1="39.50" y1="532.56" x2="155.10" y2="532.56" stroke="#333333" stroke-width="0.9" stroke-linecap="butt"/>
<line x1="39.50" y1="542.44" x2="155.10" y2="542.44" stroke="#333333" stroke-width="0.9" stroke-linecap="butt"/>
<line x1="39.50" y1="552.32" x2="155.10" y2="552.32" stroke="#333333" stroke-width="0.9" stroke-linecap="butt"/>
<line x1="39.50" y1="562.20" x2="155.10" y2="562.20" stroke="#333333" stroke-width="0.9" stroke-linecap="butt"/>
<line x1="39.50" y1="572.08" x2="155.10" y2="572.08" stroke="#333333" stroke-width="0.9" stroke-linecap="butt"/>
<line x1="39.50" y1="581.96" x2="155.10" y2="581.96" stroke="#333333" stroke-width="0.9" stroke-linecap="butt"/>
<line x1="39.50" y1="591.84" x2="155.10" y2="591.84" stroke="#333333" stroke-width="0.9" stroke-linecap="butt"/>
<line x1="39.50" y1="601.72" x2="155.10" y2="601.72" stroke="#333333" stroke-width="0.9" stroke-linecap="butt"/>
<line x1="39.50" y1="611.60" x2="155.10" y2="611.60" stroke="#333333" stroke-width="0.9" stroke-linecap="butt"/>
<line x1="39.50" y1="623.60" x2="155.10" y2="623.60" stroke="#333333" stroke-width="0.9" stroke-linecap="butt"/>
<line x1="39.50" y1="500.05" x2="39.50" y2="624.05" stroke="#333333" stroke-width="0.9" stroke-linecap="butt"/>
<line x1="51.06" y1="500.05" x2="51.06" y2="624.05" stroke="#333333" stroke-width="0.9" stroke-linecap="butt"/>
<line x1="62.62" y1="500.05" x2="62.62" y2="624.05" stroke="#333333" stroke-width="0.9" stroke-linecap="butt"/>
<line x1="74.18" y1="500.05" x2="74.18" y2="624.05" stroke="#333333" stroke-width="0.9" stroke-linecap="butt"/>
<line x1="85.74" y1="500.05" x2="85.74" y2="624.05" stroke="#333333" stroke-width="0.9" stroke-linecap="butt"/>
<line x1="97.30" y1="500.05" x2="97.30" y2="624.05" stroke="#333333" stroke-width="0.9" stroke-linecap="butt"/>
<line x1="108.86" y1="500.05" x2="108.86" y2="624.05" stroke="#333333" stroke-width="0.9" stroke-linecap="butt"/>
<line x1="120.42" y1="500.05" x2="120.42" y2="624.05" stroke="#333333" stroke-width="0.9" stroke-linecap="butt"/>
<line x1="131.98" y1="500.05" x2="131.98" y2="624.05" stroke="#333333" stroke-width="0.9" stroke-linecap="butt"/>
<line x1="143.54" y1="500.05" x2="143.54" y2="624.05" stroke="#333333" stroke-width="0.9" stroke-linecap="butt"/>
<line x1="155.10" y1="500.05" x2="155.10" y2="624.05" stroke="#333333" stroke-width="0.9" stroke-linecap="butt"/>
<text transform="translate(36.70,515.10) scale(1.05,1)" font-size="8.3" text-anchor="end" font-weight="normal" fill="#1c1a1b"  stroke="#1c1a1b" stroke-width="0.38">0</text>
<text transform="translate(36.70,524.98) scale(1.05,1)" font-size="8.3" text-anchor="end" font-weight="normal" fill="#1c1a1b"  stroke="#1c1a1b" stroke-width="0.38">10</text>
<text transform="translate(36.70,534.86) scale(1.05,1)" font-size="8.3" text-anchor="end" font-weight="normal" fill="#1c1a1b"  stroke="#1c1a1b" stroke-width="0.38">20</text>
<text transform="translate(36.70,544.74) scale(1.05,1)" font-size="8.3" text-anchor="end" font-weight="normal" fill="#1c1a1b"  stroke="#1c1a1b" stroke-width="0.38">30</text>
<text transform="translate(36.70,554.62) scale(1.05,1)" font-size="8.3" text-anchor="end" font-weight="normal" fill="#1c1a1b"  stroke="#1c1a1b" stroke-width="0.38">40</text>
<text transform="translate(36.70,564.50) scale(1.05,1)" font-size="8.3" text-anchor="end" font-weight="normal" fill="#1c1a1b"  stroke="#1c1a1b" stroke-width="0.38">50</text>
<text transform="translate(36.70,574.38) scale(1.05,1)" font-size="8.3" text-anchor="end" font-weight="normal" fill="#1c1a1b"  stroke="#1c1a1b" stroke-width="0.38">60</text>
<text transform="translate(36.70,584.26) scale(1.05,1)" font-size="8.3" text-anchor="end" font-weight="normal" fill="#1c1a1b"  stroke="#1c1a1b" stroke-width="0.38">70</text>
<text transform="translate(36.70,594.14) scale(1.05,1)" font-size="8.3" text-anchor="end" font-weight="normal" fill="#1c1a1b"  stroke="#1c1a1b" stroke-width="0.38">80</text>
<text transform="translate(36.70,604.02) scale(1.05,1)" font-size="8.3" text-anchor="end" font-weight="normal" fill="#1c1a1b"  stroke="#1c1a1b" stroke-width="0.38">90</text>
<text transform="translate(36.70,613.90) scale(1.05,1)" font-size="8.3" text-anchor="end" font-weight="normal" fill="#1c1a1b"  stroke="#1c1a1b" stroke-width="0.38">100</text>
<text transform="translate(56.36,633.30) rotate(-45)" font-size="8.7" text-anchor="end" font-weight="normal" fill="#1c1a1b"  stroke="#1c1a1b" stroke-width="0.12">0:30</text>
<text transform="translate(79.48,633.30) rotate(-45)" font-size="8.7" text-anchor="end" font-weight="normal" fill="#1c1a1b"  stroke="#1c1a1b" stroke-width="0.12">1:30</text>
<text transform="translate(102.60,633.30) rotate(-45)" font-size="8.7" text-anchor="end" font-weight="normal" fill="#1c1a1b"  stroke="#1c1a1b" stroke-width="0.12">2:30</text>
<text transform="translate(125.72,633.30) rotate(-45)" font-size="8.7" text-anchor="end" font-weight="normal" fill="#1c1a1b"  stroke="#1c1a1b" stroke-width="0.12">3:30</text>
<text transform="translate(148.84,633.30) rotate(-45)" font-size="8.7" text-anchor="end" font-weight="normal" fill="#1c1a1b"  stroke="#1c1a1b" stroke-width="0.12">4:30</text>
<text transform="translate(16.30,562.90) rotate(-90) scale(0.9,1)" font-size="9.5" text-anchor="middle" font-weight="normal" fill="#1c1a1b" letter-spacing="0.37" stroke="#1c1a1b" stroke-width="0.3">% aggregation</text>
<text transform="translate(106.30,657.80) scale(0.86,1)" font-size="10.2" text-anchor="middle" font-weight="normal" fill="#1c1a1b" letter-spacing="0.32" stroke="#1c1a1b" stroke-width="0.35">Time (min:sec)</text>
<text transform="translate(8.10,501.40) scale(0.97,1)" font-size="12.2" text-anchor="start" font-weight="normal" fill="#000"  stroke="#000" stroke-width="0.6">C</text>
<line x1="160.90" y1="589.00" x2="160.90" y2="622.50" stroke="#000" stroke-width="1.1" stroke-linecap="butt"/>
<text transform="translate(169.80,621.80) rotate(-90) scale(0.89,1)" font-size="8.9" text-anchor="start" font-weight="normal" fill="#1c1a1b"  stroke="#1c1a1b" stroke-width="0.3">ATP 1nM</text>
<clipPath id="clipC"><rect x="39.5" y="500.5" width="115.6" height="123.10000000000002"/></clipPath>
<g clip-path="url(#clipC)">
<path d="M49.3,514.0 L49.3,513.6 L49.3,513.0 L49.4,512.3 L49.4,511.5 L49.4,510.7 L49.4,509.9 L49.5,509.0 L49.5,508.2 L49.5,507.4 L49.6,506.6 L49.6,506.0 L49.6,505.0 L49.6,504.0 L49.6,503.1 L49.7,502.3 L49.7,501.7 L49.9,501.2 L50.3,500.8 L50.9,501.0 L52.0,501.1 L52.6,501.1 L53.3,501.0 L54.1,501.1 L54.9,500.9 L55.8,501.2 L56.6,501.0 L57.4,501.1 L58.0,501.1 L59.0,501.1 L59.9,500.7 L60.6,500.4 L61.2,501.1 L62.3,501.4 L62.7,502.0 L63.1,502.8 L63.5,503.0 L64.0,504.0 L64.3,504.6 L64.7,504.9 L65.0,505.8 L65.4,506.4 L66.0,507.3 L66.2,507.7 L66.5,508.7 L66.8,508.9 L67.1,509.8 L67.5,510.4 L67.8,510.5 L68.1,511.4 L68.5,512.4 L68.9,513.1 L69.2,513.9 L69.6,514.6 L69.9,515.3 L70.3,515.5 L70.6,516.1 L71.0,517.1 L71.4,517.4 L71.9,518.4 L72.3,518.3 L72.7,519.5 L73.1,519.8 L73.5,519.9 L73.9,521.2 L74.4,521.6 L74.8,522.0 L75.2,522.2 L75.7,523.0 L76.2,524.1 L76.7,524.0 L77.2,523.9 L77.8,525.1 L78.3,525.5 L78.8,526.2 L79.3,526.6 L79.8,526.9 L80.4,527.4 L81.1,528.3 L81.7,528.0 L82.3,529.2 L83.0,528.9 L83.7,529.1 L84.4,529.8 L85.1,529.9 L85.7,529.7 L86.4,530.3 L87.1,529.8 L87.9,530.1 L88.6,530.7 L89.4,530.5 L90.2,530.3 L90.8,530.8 L91.5,530.9 L92.1,530.7 L92.8,530.3 L93.4,530.7 L94.1,530.9 L94.9,531.0 L95.7,531.3 L96.6,530.8 L97.5,530.8 L98.1,530.9 L98.7,531.2 L99.4,530.7 L100.1,531.3 L100.8,530.3 L101.5,531.2 L102.3,530.8 L103.0,531.1 L103.8,531.2 L104.6,530.8 L105.4,531.1 L106.2,531.2 L106.9,531.3 L107.7,530.9 L108.5,531.0 L109.3,530.8 L110.0,531.9 L110.7,531.3 L111.5,531.3 L112.2,531.1 L112.9,531.8 L113.7,531.5 L114.4,532.0 L115.1,531.9 L115.9,531.8 L116.6,532.1 L117.4,531.7 L118.1,532.0 L118.8,532.0 L119.6,531.9 L120.3,532.3 L121.0,532.3 L121.8,532.8 L122.5,531.7 L123.2,532.4 L124.0,532.4 L124.7,532.6 L125.5,532.9 L126.3,533.0 L127.0,533.0 L127.8,533.0 L128.5,533.3 L129.3,533.3 L130.0,532.9 L130.8,533.3 L131.5,533.1 L132.2,533.3 L132.9,533.7 L133.6,533.7 L134.3,533.8 L135.0,533.6 L135.8,533.8 L136.6,533.7 L137.3,534.0 L138.0,534.1 L138.8,534.4 L139.5,534.3 L140.2,533.8 L140.8,533.9 L141.5,533.8 L142.2,534.1 L142.9,534.6 L143.6,534.2 L144.3,533.5 L145.0,533.8 L145.7,533.8 L146.5,534.3 L147.3,534.2 L148.1,534.2 L149.0,534.6 L149.8,534.0 L150.6,534.0 L151.4,534.7 L152.2,534.3 L152.9,534.1 L153.5,533.8 L154.1,533.9 L154.6,533.7 L155.0,534.3" fill="none" stroke="#3a3030" stroke-width="0.8" stroke-linejoin="round" />
<path d="M70.6,515.7 L70.8,516.0 L71.2,516.5 L71.5,517.0 L71.9,517.6 L72.4,518.2 L72.8,518.9 L73.3,519.6 L73.8,520.2 L74.3,520.9 L74.8,521.4 L75.2,522.1 L75.7,522.7 L76.2,523.2 L76.7,523.6 L77.2,524.2 L77.8,524.5 L78.3,525.2 L78.8,525.7 L79.3,526.3 L79.8,527.0 L80.4,527.5 L81.1,527.4 L81.7,528.1 L82.3,528.3 L83.0,528.8 L83.7,528.8 L84.4,529.2 L85.1,529.2 L85.7,529.2 L86.4,529.9 L87.1,530.1 L87.9,530.0 L88.6,530.1 L89.4,530.1 L90.2,530.0 L90.8,529.6 L91.5,530.4 L92.1,530.3 L92.8,530.1 L93.4,530.0 L94.1,530.7 L94.9,529.8 L95.7,530.9 L96.6,530.6 L97.5,531.1 L98.1,530.2 L98.7,530.4 L99.4,530.3 L100.1,530.5 L100.8,530.4 L101.5,530.3 L102.3,530.8 L103.0,530.3 L103.8,530.4 L104.6,530.7 L105.4,530.4 L106.2,530.5 L106.9,530.8 L107.7,530.6 L108.5,530.3 L109.3,530.7 L110.0,530.7 L110.7,531.4 L111.5,530.6 L112.2,531.3 L112.9,530.8 L113.7,531.0 L114.4,531.1 L115.1,531.3 L115.9,531.6 L116.6,531.9 L117.4,531.3 L118.1,531.9 L118.8,531.9 L119.6,531.9 L120.3,531.5 L121.0,532.1 L121.8,531.9 L122.5,532.1 L123.2,532.0 L124.0,532.4 L124.7,532.6 L125.5,532.7 L126.3,532.3 L127.0,532.8 L127.8,533.0 L128.5,532.4 L129.3,533.2 L130.0,532.4 L130.8,533.1 L131.5,533.2 L132.2,533.5 L132.9,533.2 L133.6,533.0 L134.3,533.0 L135.0,532.9 L135.8,533.6 L136.6,533.3 L137.3,533.2 L138.0,533.6 L138.8,533.3 L139.5,533.4 L140.2,533.4 L140.8,534.0 L141.5,534.0 L142.2,533.5 L142.9,533.1 L143.6,533.7 L144.3,533.6 L145.0,533.7 L145.7,533.8 L146.5,533.5 L147.3,533.9 L148.1,533.9 L149.0,533.8 L149.8,533.6 L150.6,533.6 L151.4,533.9 L152.2,533.4 L152.9,533.7 L153.5,533.5 L154.1,533.4 L154.6,534.0 L155.0,533.8" fill="none" stroke="#b8806a" stroke-width="0.5" stroke-linejoin="round" />
<path d="M56.2,500.6 L56.4,501.1 L56.7,501.7 L57.0,502.5 L57.3,503.3 L57.6,504.0 L57.9,504.6 L58.1,505.2 L58.4,505.8 L58.7,506.6 L59.1,507.6 L59.3,508.0 L59.6,508.7 L59.9,509.1 L60.2,509.7 L60.5,510.3 L60.8,510.9 L61.2,511.7 L61.5,512.1 L61.9,513.1 L62.2,513.9 L62.5,514.7 L62.8,515.1 L63.1,516.1 L63.3,516.3 L63.6,517.1 L63.9,517.3 L64.2,518.3 L64.5,518.9 L64.7,520.3 L65.0,520.7 L65.4,520.9 L65.7,522.0 L66.0,522.6 L66.4,523.1 L66.8,523.9 L67.2,524.5 L67.6,525.1 L68.0,525.4 L68.4,526.5 L68.9,527.6 L69.3,528.2 L69.7,528.3 L70.2,528.7 L70.6,529.4 L71.1,530.4 L71.6,530.8 L72.1,531.1 L72.6,531.9 L73.2,532.2 L73.7,532.9 L74.2,533.0 L74.7,533.1 L75.2,534.0 L75.8,534.7 L76.5,534.7 L77.1,535.4 L77.7,536.1 L78.4,536.1 L79.1,536.4 L79.8,537.6 L80.5,537.6 L81.2,537.9 L81.9,537.6 L82.6,538.6 L83.4,537.9 L84.1,538.5 L84.9,539.0 L85.6,539.4 L86.4,538.9 L87.2,539.1 L88.0,539.4 L88.7,538.8 L89.5,539.6 L90.3,539.6 L91.0,539.4 L91.7,539.7 L92.2,539.8 L92.7,539.7 L93.2,539.8 L93.9,540.1 L94.8,539.5 L96.0,539.7 L96.5,539.6 L97.0,540.0 L97.6,539.6 L98.2,539.9 L98.9,539.8 L99.6,539.8 L100.3,540.3 L101.0,539.8 L101.8,540.3 L102.5,540.1 L103.3,540.3 L104.1,539.8 L104.9,540.2 L105.6,540.1 L106.4,539.8 L107.2,540.0 L107.9,539.9 L108.6,540.0 L109.3,540.4 L110.0,539.8 L110.8,539.5 L111.5,539.5 L112.3,539.9 L113.0,539.9 L113.8,540.1 L114.5,540.2 L115.3,540.6 L116.0,540.2 L116.7,540.2 L117.4,539.9 L118.1,540.3 L118.9,540.5 L119.6,540.5 L120.3,539.5 L121.0,540.4 L121.8,540.6 L122.5,540.3 L123.2,539.7 L124.0,540.0 L124.7,540.3 L125.5,540.2 L126.3,539.9 L127.0,539.8 L127.8,540.4 L128.5,539.7 L129.3,540.5 L130.0,540.1 L130.8,540.1 L131.5,539.7 L132.2,539.9 L132.9,540.2 L133.6,539.6 L134.3,540.6 L135.0,539.6 L135.8,539.6 L136.6,540.0 L137.3,540.1 L138.0,540.2 L138.8,539.8 L139.5,539.9 L140.2,539.8 L140.8,539.7 L141.5,539.1 L142.2,540.1 L142.9,539.9 L143.6,539.9 L144.3,539.6 L145.0,539.9 L145.7,539.8 L146.5,539.7 L147.3,540.1 L148.1,539.2 L149.0,539.8 L149.8,539.4 L150.6,539.5 L151.4,540.0 L152.2,539.3 L152.9,539.5 L153.5,539.4 L154.1,539.8 L154.6,539.2 L155.0,539.0" fill="none" stroke="#2a2a90" stroke-width="1.3" stroke-linejoin="round" />
<path d="M56.5,500.1 L56.7,500.6 L57.0,501.2 L57.3,502.0 L57.6,502.8 L57.9,503.5 L58.2,504.1 L58.4,504.7 L58.7,505.3 L59.0,506.1 L59.4,507.1 L59.6,507.5 L59.9,508.2 L60.2,508.5 L60.5,509.4 L60.8,509.9 L61.1,510.6 L61.5,511.2 L61.8,511.8 L62.2,512.4 L62.5,513.2 L62.8,514.3 L63.1,514.9 L63.4,515.2 L63.6,515.8 L63.9,516.4 L64.2,517.0 L64.5,518.5 L64.8,518.9 L65.0,519.4 L65.3,519.9 L65.7,520.4 L66.0,521.7 L66.3,522.2 L66.7,522.4 L67.1,523.7 L67.5,523.7 L67.9,524.9 L68.3,525.1 L68.7,525.9 L69.2,526.8 L69.6,527.4 L70.0,528.2 L70.5,528.2 L70.9,529.5 L71.4,530.0 L71.9,530.2 L72.4,530.9 L72.9,531.0 L73.5,531.7 L74.0,531.8 L74.5,532.7 L75.0,533.1 L75.5,533.9 L76.1,534.3 L76.8,534.7 L77.4,534.8 L78.0,535.3 L78.7,535.7 L79.4,536.2 L80.1,535.9 L80.8,537.0 L81.5,536.7 L82.2,537.2 L83.0,537.7 L83.7,537.8 L84.4,538.6 L85.2,538.3 L85.9,539.0 L86.7,539.0 L87.5,538.6 L88.3,539.0 L89.0,539.3 L89.8,538.8 L90.6,539.0 L91.3,538.8 L92.0,539.1 L92.5,539.0 L93.0,539.1 L93.5,539.4 L94.2,539.5 L95.1,539.2 L96.3,539.3 L96.8,539.5 L97.3,539.1 L97.9,538.9 L98.5,539.6 L99.2,539.0 L99.9,539.6 L100.6,539.0 L101.3,539.8 L102.1,539.0 L102.8,539.6 L103.6,539.8 L104.4,539.1 L105.2,539.8 L105.9,539.2 L106.7,538.9 L107.5,539.7 L108.2,539.7 L108.9,539.4 L109.6,538.8 L110.3,539.5 L111.1,539.4 L111.8,539.4 L112.6,539.4 L113.3,539.0 L114.1,539.4 L114.8,540.1 L115.6,540.0 L116.3,539.5 L117.0,539.4 L117.7,539.7 L118.4,539.9 L119.2,539.8 L119.9,539.3 L120.6,539.6 L121.3,539.6 L122.1,540.0 L122.8,539.9 L123.5,539.8 L124.3,539.9 L125.0,539.5 L125.8,540.0 L126.6,539.5 L127.3,539.7 L128.1,539.8 L128.8,539.3 L129.6,539.4 L130.3,539.1 L131.1,539.6 L131.8,539.5 L132.5,539.4 L133.2,539.7 L133.9,538.9 L134.6,539.5 L135.3,539.5 L136.1,539.4 L136.9,539.7 L137.6,540.0 L138.3,539.3 L139.1,539.2 L139.8,539.3 L140.5,539.4 L141.1,539.6 L141.8,539.1 L142.5,539.7 L143.2,539.1 L143.9,539.6 L144.6,539.4 L145.3,539.4 L146.0,539.9 L146.8,539.2 L147.6,539.2 L148.4,539.4 L149.3,539.4 L150.1,538.8 L150.9,539.2 L151.7,538.9 L152.5,539.3 L153.2,539.5 L153.8,539.1 L154.4,539.0 L154.9,539.1 L155.3,538.1" fill="none" stroke="#222" stroke-width="0.5" stroke-linejoin="round" />
<path d="M85.6,540.6 L86.1,540.7 L86.7,540.8 L87.5,541.0 L88.3,541.1 L89.2,541.3 L90.1,541.6 L91.0,541.6 L91.6,541.9 L92.3,541.2 L92.9,541.7 L93.5,542.0 L94.1,542.0 L94.8,541.6 L95.6,541.9 L96.5,542.5 L97.5,541.8 L98.1,541.9 L98.7,541.9 L99.3,542.1 L100.0,542.5 L100.7,542.5 L101.5,541.8 L102.2,542.8 L103.0,542.2 L103.8,542.2 L104.6,542.9 L105.3,542.4 L106.1,542.1 L106.9,542.3 L107.7,542.3 L108.5,542.2 L109.3,542.4 L110.0,542.8 L110.7,542.6 L111.5,542.1 L112.2,543.3 L112.9,542.2 L113.7,542.5 L114.4,542.5 L115.1,542.7 L115.9,542.4 L116.6,542.6 L117.4,543.0 L118.1,542.4 L118.8,542.1 L119.6,542.5 L120.3,542.1 L121.0,542.2 L121.8,542.4 L122.5,542.4 L123.2,542.2 L124.0,542.5 L124.7,542.2 L125.5,541.8 L126.3,542.5 L127.0,542.1 L127.8,542.5 L128.5,541.9 L129.3,542.3 L130.0,542.2 L130.8,541.3 L131.5,541.6 L132.2,541.7 L132.9,542.4 L133.6,541.5 L134.3,542.3 L135.0,542.3 L135.8,542.1 L136.6,542.2 L137.3,541.9 L138.0,542.0 L138.8,542.1 L139.5,542.2 L140.2,542.3 L140.8,542.1 L141.5,542.0 L142.2,542.0 L142.9,542.3 L143.6,541.8 L144.3,541.9 L145.0,542.2 L145.7,542.2 L146.5,542.3 L147.3,541.6 L148.1,542.3 L149.0,542.3 L149.8,542.7 L150.6,541.9 L151.4,542.4 L152.2,542.7 L152.9,542.7 L153.5,542.9 L154.1,542.9 L154.6,542.3 L155.0,542.8" fill="none" stroke="#8a8ad0" stroke-width="0.7" stroke-linejoin="round" />
<path d="M50.2,505.0 L50.4,505.6 L50.6,506.5 L51.0,507.5 L51.4,508.1 L51.8,508.7 L52.3,509.4 L52.8,510.2 L53.3,511.0 L53.6,511.6 L54.0,512.2 L54.3,512.7 L54.7,513.5 L55.1,514.0 L55.5,514.7 L55.8,515.5 L56.2,516.2 L56.5,517.0 L56.8,517.4 L57.2,518.2 L57.5,518.8 L57.8,519.2 L58.1,520.0 L58.5,520.9 L58.8,521.8 L59.1,522.6 L59.3,523.2 L59.6,523.8 L59.8,524.3 L60.1,525.2 L60.3,525.5 L60.6,526.1 L60.8,527.1 L61.0,527.5 L61.3,528.4 L61.5,529.0 L61.8,529.8 L62.0,530.6 L62.2,531.1 L62.5,531.9 L62.7,532.2 L62.9,533.4 L63.1,533.8 L63.4,534.8 L63.6,534.7 L63.8,535.9 L64.1,536.8 L64.3,536.8 L64.5,538.0 L64.8,538.7 L65.1,539.4 L65.4,539.7 L65.7,540.8 L66.0,541.4 L66.3,541.8 L66.7,542.9 L67.0,543.3 L67.3,543.9 L67.7,544.4 L68.0,545.2 L68.3,545.6 L68.7,546.6 L69.2,547.1 L69.7,547.5 L70.1,548.2 L70.6,549.0 L71.0,549.2 L71.4,549.9 L71.8,550.3 L72.4,550.8 L72.8,550.6 L73.2,551.5 L74.0,552.1 L74.5,552.3 L75.0,552.4 L75.7,553.3 L76.3,553.3 L77.0,553.6 L77.7,554.0 L78.4,554.6 L79.1,554.6 L79.8,555.0 L80.4,556.0 L81.1,556.1 L81.7,556.4 L82.4,556.7 L83.0,556.8 L83.7,556.6 L84.3,557.5 L85.0,557.8 L85.6,557.9 L86.3,557.6 L87.0,558.7 L87.8,559.0 L88.5,558.8 L89.2,559.2 L89.9,559.6 L90.7,559.7 L91.4,560.3 L92.0,560.3 L92.6,560.7 L93.2,560.8 L93.7,560.6 L94.3,561.0 L95.0,562.2 L95.7,561.8 L96.5,562.3 L97.5,562.5 L98.0,562.7 L98.6,562.6 L99.2,562.4 L99.8,562.7 L100.5,562.4 L101.2,563.0 L101.9,563.4 L102.6,562.7 L103.3,563.5 L104.1,563.7 L104.8,564.0 L105.6,563.6 L106.3,563.8 L107.1,563.6 L107.8,563.9 L108.6,564.4 L109.3,564.9 L110.0,564.2 L110.7,564.9 L111.5,564.8 L112.2,564.7 L112.9,565.4 L113.7,564.3 L114.4,565.0 L115.1,565.2 L115.9,565.7 L116.6,565.7 L117.4,565.9 L118.1,565.4 L118.8,565.7 L119.6,565.9 L120.3,565.7 L121.0,565.7 L121.8,565.7 L122.5,565.7 L123.2,565.6 L124.0,566.4 L124.7,565.9 L125.5,565.6 L126.3,566.2 L127.0,566.2 L127.8,566.4 L128.5,566.8 L129.3,566.4 L130.0,566.5 L130.8,566.4 L131.5,566.7 L132.2,566.6 L132.9,566.9 L133.6,567.6 L134.3,567.0 L135.0,566.8 L135.8,567.5 L136.6,567.4 L137.3,567.4 L138.0,567.5 L138.8,567.6 L139.5,567.6 L140.2,567.9 L140.8,567.8 L141.5,568.0 L142.2,567.6 L142.9,567.8 L143.6,567.7 L144.3,568.2 L145.0,568.2 L145.7,568.0 L146.5,568.3 L147.3,568.8 L148.1,568.6 L149.0,568.1 L149.8,568.4 L150.6,568.6 L151.4,568.5 L152.2,568.7 L152.9,568.9 L153.5,568.8 L154.1,568.5 L154.6,568.9 L155.0,568.8" fill="none" stroke="#2a2a2a" stroke-width="0.9" stroke-linejoin="round" />
<path d="M50.5,510.0 L50.5,510.6 L51.0,512.0 L51.2,512.4 L51.5,512.9 L51.7,513.5 L52.1,514.0 L52.4,514.7 L52.7,515.3 L53.1,516.0 L53.5,516.7 L53.8,517.3 L54.2,518.3 L54.5,518.9 L54.7,519.7 L55.0,520.2 L55.2,520.9 L55.4,521.6 L55.7,522.3 L55.9,522.6 L56.1,523.4 L56.4,524.4 L56.6,525.5 L56.8,525.8 L57.0,526.8 L57.3,527.4 L57.5,528.2 L57.7,529.0 L57.9,528.9 L58.1,530.2 L58.4,530.9 L58.6,531.6 L58.8,532.1 L59.1,532.9 L59.3,533.6 L59.5,534.3 L59.8,536.2 L60.0,536.6 L60.2,536.7 L60.4,537.7 L60.6,537.7 L60.8,537.8 L61.1,538.9 L61.3,540.3 L61.5,541.5 L61.8,541.8 L62.0,542.2 L62.2,543.1 L62.4,543.5 L62.6,544.0 L62.9,545.0 L63.1,545.5 L63.5,546.1 L63.9,546.8 L64.3,547.4 L64.7,548.4 L65.1,549.2 L65.4,549.1 L65.9,550.5 L66.4,549.5 L67.1,550.6 L67.6,550.4 L68.1,551.1 L68.7,551.5 L69.3,552.1 L69.9,552.7 L70.6,552.7 L71.1,552.9 L71.5,553.7 L72.1,554.4 L72.6,554.6 L73.1,555.8 L73.6,556.6 L74.2,556.1 L74.7,557.2 L75.2,557.8 L75.8,557.3 L76.5,558.5 L77.1,558.8 L77.7,558.7 L78.4,560.0 L79.1,560.0 L79.8,560.2 L80.4,560.9 L81.0,561.3 L81.6,561.8 L82.3,562.1 L83.0,562.4 L83.6,562.3 L84.3,562.9 L84.9,563.5 L85.6,562.9 L86.2,564.9 L86.9,564.4 L87.5,564.6 L88.2,564.7 L88.8,565.8 L89.4,566.0 L90.1,566.2 L90.7,566.6 L91.4,566.7 L92.0,567.0 L92.6,567.5 L93.2,567.5 L93.7,568.2 L94.3,568.1 L95.0,568.4 L95.7,568.7 L96.5,569.2 L97.5,569.2 L98.0,569.2 L98.6,569.2 L99.2,569.1 L99.8,569.4 L100.5,569.9 L101.2,569.8 L101.9,569.8 L102.6,569.6 L103.3,569.6 L104.1,570.4 L104.8,570.8 L105.6,570.7 L106.3,570.2 L107.1,570.8 L107.8,571.0 L108.6,570.8 L109.3,571.3 L110.0,571.2 L110.7,571.1 L111.4,571.1 L112.1,571.9 L112.8,571.8 L113.5,571.5 L114.2,571.6 L114.9,572.3 L115.6,572.3 L116.2,572.1 L116.9,572.8 L117.6,572.3 L118.3,572.1 L119.0,572.9 L119.7,572.6 L120.4,572.9 L121.1,572.8 L121.8,572.6 L122.5,572.6 L123.2,573.0 L124.0,573.7 L124.7,572.9 L125.5,573.8 L126.3,573.6 L127.0,573.2 L127.8,573.8 L128.5,574.0 L129.3,573.6 L130.0,573.2 L130.8,574.2 L131.5,573.7 L132.2,574.4 L132.9,573.6 L133.6,574.3 L134.3,574.2 L135.0,574.0 L135.8,574.5 L136.6,574.7 L137.3,574.5 L138.0,574.4 L138.8,574.9 L139.5,574.3 L140.2,575.1 L140.8,575.1 L141.5,575.6 L142.2,575.3 L142.9,575.2 L143.6,575.2 L144.3,575.2 L145.0,574.7 L145.7,575.7 L146.5,575.5 L147.3,575.2 L148.1,575.0 L149.0,576.0 L149.8,575.7 L150.6,575.1 L151.4,575.8 L152.2,576.3 L152.9,575.7 L153.5,575.8 L154.1,575.6 L154.6,575.6 L155.0,576.2" fill="none" stroke="#3a3ac8" stroke-width="1.0" stroke-linejoin="round" />
<path d="M50.6,513.0 L50.8,513.4 L51.1,514.1 L51.5,515.0 L51.7,515.5 L52.0,515.9 L52.3,516.5 L52.6,517.1 L52.9,517.9 L53.3,519.0 L53.5,519.5 L53.6,520.1 L53.8,520.7 L54.0,521.3 L54.2,522.1 L54.4,522.7 L54.6,523.5 L54.8,524.3 L55.0,525.0 L55.2,525.8 L55.4,526.5 L55.6,527.3 L55.8,528.0 L56.0,528.7 L56.2,529.4 L56.4,530.1 L56.7,531.0 L56.9,531.6 L57.1,532.5 L57.4,533.1 L57.6,533.7 L57.8,534.5 L58.1,535.2 L58.3,535.9 L58.5,536.6 L58.7,537.6 L58.9,538.0 L59.1,538.9 L59.3,539.5 L59.5,540.1 L59.7,540.7 L59.9,541.8 L60.1,542.2 L60.3,543.3 L60.4,544.1 L60.6,544.7 L60.7,545.3 L60.9,546.0 L61.0,546.7 L61.1,547.4 L61.3,548.1 L61.4,548.8 L61.5,549.8 L61.6,550.2 L61.7,551.1 L61.8,551.5 L61.9,552.3 L61.9,552.8 L62.0,553.7 L62.1,554.5 L62.1,555.2 L62.2,555.8 L62.2,556.6 L62.3,557.2 L62.3,558.0 L62.3,558.6 L62.4,559.4 L62.4,559.6 L62.4,560.6 L62.4,561.7 L62.4,562.4 L62.4,563.6 L62.3,564.0 L62.3,564.8 L62.3,565.7 L62.4,566.2 L62.4,566.9 L63.5,567.3 L64.1,567.2 L64.8,567.3 L65.5,567.1 L66.3,567.1 L67.1,567.2 L67.8,567.4 L68.5,567.8 L69.2,567.9 L69.9,568.3 L70.6,568.5 L71.2,569.0 L71.9,568.8 L72.5,569.5 L73.2,569.9 L74.0,570.0 L74.6,570.6 L75.3,570.8 L76.0,571.2 L76.8,571.4 L77.5,571.7 L78.3,571.9 L79.1,572.1 L79.8,572.5 L80.5,572.7 L81.3,573.1 L82.0,573.3 L82.7,574.1 L83.5,573.7 L84.2,574.4 L84.9,574.5 L85.6,574.8 L86.3,575.2 L87.0,575.3 L87.7,575.4 L88.3,575.9 L89.0,576.0 L89.7,576.0 L90.3,576.5 L91.0,576.5 L91.7,576.8 L92.2,577.2 L92.7,577.3 L93.2,577.4 L93.9,578.0 L94.8,578.0 L96.0,578.2 L96.5,578.5 L97.0,578.6 L97.6,578.4 L98.2,578.7 L98.9,578.9 L99.6,579.6 L100.3,579.5 L101.0,579.6 L101.8,579.8 L102.5,580.2 L103.3,580.3 L104.1,580.8 L104.9,580.8 L105.6,581.2 L106.4,581.1 L107.2,581.4 L107.9,581.4 L108.6,581.6 L109.3,581.6 L110.0,581.9 L110.7,582.0 L111.5,582.2 L112.2,582.7 L112.9,582.7 L113.6,583.0 L114.3,583.1 L115.0,583.2 L115.7,583.4 L116.3,583.3 L117.0,583.6 L117.7,583.6 L118.4,583.7 L119.1,584.1 L119.8,584.3 L120.4,584.0 L121.1,584.5 L121.8,584.5 L122.5,584.4 L123.2,584.7 L123.9,584.8 L124.6,584.9 L125.3,584.9 L126.0,584.9 L126.8,585.2 L127.5,585.4 L128.2,585.5 L128.9,585.5 L129.6,585.7 L130.3,585.5 L131.0,585.7 L131.7,585.8 L132.4,586.0 L133.1,586.0 L133.7,586.1 L134.4,586.1 L135.0,586.5 L135.8,586.0 L136.6,586.4 L137.3,586.8 L138.0,586.6 L138.8,586.4 L139.5,586.7 L140.2,586.5 L140.8,586.7 L141.5,586.9 L142.2,587.2 L142.9,587.1 L143.6,587.2 L144.3,587.3 L145.0,587.2 L145.7,587.1 L146.5,587.3 L147.3,587.4 L148.1,587.4 L149.0,587.4 L149.8,587.5 L150.6,587.4 L151.4,587.6 L152.2,587.8 L152.9,587.8 L153.5,587.9 L154.1,588.1 L154.6,588.0 L155.0,588.0" fill="none" stroke="#9494dc" stroke-width="0.75" stroke-linejoin="round" />
<path d="M48.7,602.0 L48.8,601.6 L49.0,601.1 L49.3,600.6 L49.5,599.9 L49.8,599.2 L50.1,598.4 L50.4,597.7 L50.7,596.8 L51.0,596.0 L51.2,595.4 L51.5,594.8 L51.7,594.1 L52.0,593.5 L52.3,592.8 L52.5,592.0 L52.8,591.3 L53.1,590.6 L53.4,589.9 L53.7,589.2 L54.0,588.4 L54.2,587.9 L54.5,587.1 L54.7,586.3 L55.0,585.6 L55.2,585.0 L55.5,584.4 L55.7,583.5 L56.0,583.0 L56.2,582.1 L56.5,581.6 L56.7,581.1 L57.0,580.4 L57.2,579.5 L57.4,579.1 L57.7,578.4 L57.9,577.7 L58.2,577.0 L58.4,576.4 L58.7,575.4 L59.0,574.7 L59.2,573.9 L59.5,573.4 L59.7,572.4 L60.0,572.1 L60.2,571.2 L60.4,570.8 L60.6,570.1 L60.8,569.7 L61.5,568.3 L62.0,568.3 L62.4,568.5 L62.7,569.6 L63.1,570.3 L63.7,571.1 L64.4,571.2 L65.3,571.2 L66.2,571.1 L67.1,571.3 L67.8,571.2 L68.4,571.3 L69.1,571.7 L69.8,571.7 L70.6,572.1 L71.2,572.2 L71.8,572.6 L72.5,572.6 L73.2,573.2 L73.9,573.5 L74.5,573.7 L75.2,574.1 L75.9,574.6 L76.5,574.9 L77.2,575.1 L77.8,575.7 L78.5,575.8 L79.1,576.2 L79.8,576.5 L80.4,576.7 L81.1,576.9 L81.7,577.2 L82.3,577.6 L83.0,577.8 L83.7,577.8 L84.4,578.4 L85.0,578.6 L85.6,578.9 L86.2,579.2 L86.9,579.6 L87.6,579.8 L88.2,580.1 L88.9,580.5 L89.5,580.8 L90.2,581.2 L90.9,581.2 L91.5,581.8 L92.0,581.7 L92.6,581.9 L93.2,582.3 L94.0,582.5 L94.9,582.6 L96.0,582.8 L96.5,582.9 L97.1,583.0 L97.7,583.4 L98.3,583.5 L99.0,583.7 L99.6,583.7 L100.4,583.9 L101.1,584.0 L101.8,584.2 L102.6,584.2 L103.3,584.4 L104.1,584.8 L104.9,584.5 L105.7,584.7 L106.4,584.9 L107.2,585.2 L107.9,585.4 L108.6,585.3 L109.3,585.6 L110.0,585.6 L110.7,585.7 L111.5,585.8 L112.2,585.9 L112.9,586.0 L113.6,586.2 L114.3,586.5 L115.0,586.2 L115.7,586.5 L116.3,586.5 L117.0,586.7 L117.7,586.8 L118.4,586.8 L119.1,586.9 L119.8,586.8 L120.4,586.8 L121.1,587.2 L121.8,587.2 L122.5,587.1 L123.2,587.4 L123.9,587.4 L124.6,587.2 L125.3,587.6 L125.9,587.4 L126.6,587.7 L127.3,587.6 L127.9,587.6 L128.6,587.6 L129.3,587.8 L130.0,587.9 L130.8,587.8 L131.5,587.8 L132.3,588.2 L133.2,588.2 L134.1,588.2 L135.0,588.1 L135.6,588.1 L136.2,588.1 L136.9,588.4 L137.6,588.5 L138.4,588.3 L139.2,588.5 L139.9,588.5 L140.8,588.6 L141.6,588.7 L142.4,588.9 L143.3,588.7 L144.1,588.9 L144.9,589.0 L145.8,588.9 L146.6,589.0 L147.4,588.9 L148.2,589.2 L149.0,589.1 L149.8,589.2 L150.5,589.3 L151.2,589.3 L151.9,589.3 L152.5,589.4 L153.1,589.6 L153.7,589.5 L154.2,589.6 L154.6,589.4 L155.0,589.4" fill="none" stroke="#7a7a90" stroke-width="0.7" stroke-linejoin="round" />
<path d="M39.80,597.20 C40.25,597.17 41.63,597.07 42.50,597.00 C43.37,596.93 44.28,596.67 45.00,596.80 C45.72,596.93 46.38,597.35 46.80,597.80 C47.22,598.25 47.32,597.47 47.50,599.50 C47.68,601.53 47.73,608.00 47.90,610.00 C48.07,612.00 48.32,612.17 48.50,611.50 C48.68,610.83 48.82,607.78 49.00,606.00 C49.18,604.22 49.33,601.77 49.60,600.80 C49.87,599.83 49.70,600.40 50.60,600.20 C51.50,600.00 53.10,599.83 55.00,599.60 C56.90,599.37 59.92,599.00 62.00,598.80 C64.08,598.60 65.75,598.45 67.50,598.40 C69.25,598.35 70.42,598.33 72.50,598.50 C74.58,598.67 77.08,599.08 80.00,599.40 C82.92,599.72 85.00,600.17 90.00,600.40 C95.00,600.63 104.17,600.73 110.00,600.80 C115.83,600.87 120.00,600.85 125.00,600.80 C130.00,600.75 135.00,600.56 140.00,600.48 C145.00,600.40 152.50,600.33 155.00,600.30" fill="none" stroke="#2a2a2a" stroke-width="0.9" stroke-linejoin="round" />
<path d="M39.80,595.20 C40.25,595.17 41.63,595.07 42.50,595.00 C43.37,594.93 44.28,594.67 45.00,594.80 C45.72,594.93 46.38,595.02 46.80,595.80 C47.22,596.58 47.32,597.13 47.50,599.50 C47.68,601.87 47.73,608.00 47.90,610.00 C48.07,612.00 48.32,612.17 48.50,611.50 C48.68,610.83 48.82,607.78 49.00,606.00 C49.18,604.22 49.33,602.10 49.60,600.80 C49.87,599.50 49.70,598.73 50.60,598.20 C51.50,597.67 53.10,597.83 55.00,597.60 C56.90,597.37 59.92,597.00 62.00,596.80 C64.08,596.60 65.75,596.45 67.50,596.40 C69.25,596.35 70.42,596.33 72.50,596.50 C74.58,596.67 77.08,597.08 80.00,597.40 C82.92,597.72 85.00,598.17 90.00,598.40 C95.00,598.63 104.17,598.83 110.00,598.80 C115.83,598.77 120.00,598.41 125.00,598.20 C130.00,597.99 135.00,597.70 140.00,597.52 C145.00,597.34 152.50,597.17 155.00,597.10" fill="none" stroke="#c88a7a" stroke-width="0.8" stroke-linejoin="round" />
<path d="M39.80,598.20 C40.25,598.17 41.63,598.07 42.50,598.00 C43.37,597.93 44.28,597.67 45.00,597.80 C45.72,597.93 46.38,598.52 46.80,598.80 C47.22,599.08 47.32,597.63 47.50,599.50 C47.68,601.37 47.73,608.00 47.90,610.00 C48.07,612.00 48.32,612.17 48.50,611.50 C48.68,610.83 48.82,607.78 49.00,606.00 C49.18,604.22 49.33,601.60 49.60,600.80 C49.87,600.00 49.70,601.23 50.60,601.20 C51.50,601.17 53.10,600.83 55.00,600.60 C56.90,600.37 59.92,600.00 62.00,599.80 C64.08,599.60 65.75,599.45 67.50,599.40 C69.25,599.35 70.42,599.33 72.50,599.50 C74.58,599.67 77.08,600.08 80.00,600.40 C82.92,600.72 85.00,601.17 90.00,601.40 C95.00,601.63 104.17,601.68 110.00,601.80 C115.83,601.92 120.00,602.07 125.00,602.10 C130.00,602.13 135.00,601.99 140.00,601.96 C145.00,601.93 152.50,601.91 155.00,601.90" fill="none" stroke="#6a9a5a" stroke-width="0.8" stroke-linejoin="round" />
<path d="M39.80,597.60 C40.25,597.57 41.63,597.47 42.50,597.40 C43.37,597.33 44.28,597.07 45.00,597.20 C45.72,597.33 46.38,597.82 46.80,598.20 C47.22,598.58 47.32,597.53 47.50,599.50 C47.68,601.47 47.73,608.00 47.90,610.00 C48.07,612.00 48.32,612.17 48.50,611.50 C48.68,610.83 48.82,607.78 49.00,606.00 C49.18,604.22 49.33,601.70 49.60,600.80 C49.87,599.90 49.70,600.73 50.60,600.60 C51.50,600.47 53.10,600.23 55.00,600.00 C56.90,599.77 59.92,599.40 62.00,599.20 C64.08,599.00 65.75,598.85 67.50,598.80 C69.25,598.75 70.42,598.73 72.50,598.90 C74.58,599.07 77.08,599.48 80.00,599.80 C82.92,600.12 85.00,600.57 90.00,600.80 C95.00,601.03 104.17,601.15 110.00,601.20 C115.83,601.25 120.00,601.18 125.00,601.10 C130.00,601.02 135.00,600.82 140.00,600.72 C145.00,600.62 152.50,600.54 155.00,600.50" fill="none" stroke="#6a6aa0" stroke-width="0.6" stroke-linejoin="round" />
<path d="M39.80,596.20 C40.25,596.17 41.63,596.07 42.50,596.00 C43.37,595.93 44.28,595.67 45.00,595.80 C45.72,595.93 46.38,596.18 46.80,596.80 C47.22,597.42 47.32,597.30 47.50,599.50 C47.68,601.70 47.73,608.00 47.90,610.00 C48.07,612.00 48.32,612.17 48.50,611.50 C48.68,610.83 48.82,607.78 49.00,606.00 C49.18,604.22 49.33,601.93 49.60,600.80 C49.87,599.67 49.70,599.57 50.60,599.20 C51.50,598.83 53.10,598.83 55.00,598.60 C56.90,598.37 59.92,598.00 62.00,597.80 C64.08,597.60 65.75,597.45 67.50,597.40 C69.25,597.35 70.42,597.33 72.50,597.50 C74.58,597.67 77.08,598.08 80.00,598.40 C82.92,598.72 85.00,599.17 90.00,599.40 C95.00,599.63 104.17,599.77 110.00,599.80 C115.83,599.83 120.00,599.71 125.00,599.60 C130.00,599.49 135.00,599.28 140.00,599.16 C145.00,599.04 152.50,598.94 155.00,598.90" fill="none" stroke="#9a8a6a" stroke-width="0.7" stroke-linejoin="round" />
<line x1="41.20" y1="598.00" x2="41.20" y2="612.00" stroke="#7a8a7a" stroke-width="0.7" stroke-linecap="butt"/>
</g>
<line x1="39.50" y1="513.20" x2="51.00" y2="513.20" stroke="#2a2a90" stroke-width="2.0" stroke-linecap="butt"/>
<line x1="40.20" y1="514.00" x2="40.20" y2="596.00" stroke="#4a4a88" stroke-width="1.0" stroke-linecap="butt"/>
<line x1="50.20" y1="501.00" x2="50.20" y2="513.00" stroke="#5a5ad0" stroke-width="1.6" stroke-linecap="butt"/>
<line x1="49.30" y1="533.00" x2="49.30" y2="520.50" stroke="#000" stroke-width="1.3" stroke-linecap="butt"/>
<path d="M49.3,516.6 L47.2,521 L51.4,521 Z" fill="#000"/>
<text transform="translate(51.30,569.60) rotate(-90)" font-size="8.7" text-anchor="start" font-weight="normal" fill="#1c1a1b" >ERp57<tspan dy="-3.91" font-size="4.35" font-weight="bold">fl/fl</tspan></text>
<line x1="54.50" y1="549.60" x2="58.96" y2="542.35" stroke="#000" stroke-width="1.3" stroke-linecap="butt"/>
<path d="M60.90,539.20 L60.40,543.83 L57.00,541.73 Z" fill="#000"/>
<line x1="54.50" y1="556.30" x2="58.97" y2="563.64" stroke="#000" stroke-width="1.3" stroke-linecap="butt"/>
<path d="M60.90,566.80 L57.01,564.25 L60.42,562.17 Z" fill="#000"/>
<line x1="32.90" y1="669.40" x2="42.40" y2="669.40" stroke="#9090c0" stroke-width="1.6" stroke-linecap="butt"/>
<text transform="translate(45.50,672.40)" font-size="6.9" text-anchor="start" font-weight="normal" fill="#333" >ERp57<tspan dy="-3.11" font-size="5.11" font-weight="bold">fl/fl</tspan></text>
<line x1="32.90" y1="682.30" x2="42.40" y2="682.30" stroke="#9a1030" stroke-width="1.6" stroke-linecap="butt"/>
<text transform="translate(45.50,685.30)" font-size="6.9" text-anchor="start" font-weight="normal" fill="#333" >Pf4-Cre/ERp57<tspan dy="-3.11" font-size="5.11" font-weight="bold">fl/fl</tspan></text>
<line x1="32.90" y1="695.30" x2="42.40" y2="695.30" stroke="#7fae55" stroke-width="1.6" stroke-linecap="butt"/>
<text transform="translate(45.50,698.30)" font-size="6.9" text-anchor="start" font-weight="normal" fill="#333" >Pf4-Cre/ERp57<tspan dy="-3.11" font-size="5.11" font-weight="bold">fl/fl</tspan><tspan dy="3.11" font-weight="normal"> + PDI</tspan></text>
<line x1="32.90" y1="708.20" x2="42.40" y2="708.20" stroke="#274b6e" stroke-width="1.6" stroke-linecap="butt"/>
<text transform="translate(45.50,711.20)" font-size="6.9" text-anchor="start" font-weight="normal" fill="#333" >Pf4-Cre/ERp57<tspan dy="-3.11" font-size="5.11" font-weight="bold">fl/fl</tspan><tspan dy="3.11" font-weight="normal"> + ERp72</tspan></text>
<line x1="32.90" y1="721.20" x2="42.40" y2="721.20" stroke="#0a0a0a" stroke-width="1.6" stroke-linecap="butt"/>
<text transform="translate(45.50,724.20)" font-size="6.9" text-anchor="start" font-weight="normal" fill="#333" >Pf4-Cre/ERp57<tspan dy="-3.11" font-size="5.11" font-weight="bold">fl/fl</tspan><tspan dy="3.11" font-weight="normal"> + ERp57</tspan></text>
<rect x="229.00" y="523.90" width="12.40" height="86.50" fill="#a80a2b"/>
<rect x="252.90" y="581.86" width="12.40" height="28.54" fill="#a80a2b"/>
<line x1="259.10" y1="582.15" x2="259.10" y2="578.57" stroke="#2e2a2a" stroke-width="1.4" stroke-linecap="butt"/>
<line x1="255.20" y1="578.57" x2="263.00" y2="578.57" stroke="#2e2a2a" stroke-width="1.3" stroke-linecap="butt"/>
<rect x="277.10" y="572.77" width="12.40" height="37.63" fill="#a80a2b"/>
<line x1="283.30" y1="573.07" x2="283.30" y2="570.87" stroke="#2e2a2a" stroke-width="1.4" stroke-linecap="butt"/>
<line x1="279.40" y1="570.87" x2="287.20" y2="570.87" stroke="#2e2a2a" stroke-width="1.3" stroke-linecap="butt"/>
<rect x="300.50" y="574.07" width="12.40" height="36.33" fill="#a80a2b"/>
<line x1="306.70" y1="574.37" x2="306.70" y2="570.18" stroke="#2e2a2a" stroke-width="1.4" stroke-linecap="butt"/>
<line x1="302.80" y1="570.18" x2="310.60" y2="570.18" stroke="#2e2a2a" stroke-width="1.3" stroke-linecap="butt"/>
<rect x="324.60" y="536.44" width="12.40" height="73.96" fill="#a80a2b"/>
<line x1="330.80" y1="536.74" x2="330.80" y2="533.85" stroke="#2e2a2a" stroke-width="1.4" stroke-linecap="butt"/>
<line x1="326.90" y1="533.85" x2="334.70" y2="533.85" stroke="#2e2a2a" stroke-width="1.3" stroke-linecap="butt"/>
<line x1="223.60" y1="499.27" x2="223.60" y2="611.10" stroke="#000" stroke-width="1.4" stroke-linecap="butt"/>
<line x1="222.90" y1="610.40" x2="342.00" y2="610.40" stroke="#000" stroke-width="1.4" stroke-linecap="butt"/>
<line x1="220.20" y1="610.40" x2="223.60" y2="610.40" stroke="#000" stroke-width="1.2" stroke-linecap="butt"/>
<text transform="translate(217.20,613.80) scale(1.05,1)" font-size="8.0" text-anchor="end" font-weight="normal" fill="#1c1a1b"  stroke="#1c1a1b" stroke-width="0.3">0</text>
<line x1="220.20" y1="588.77" x2="223.60" y2="588.77" stroke="#000" stroke-width="1.2" stroke-linecap="butt"/>
<text transform="translate(217.20,592.17) scale(1.05,1)" font-size="8.0" text-anchor="end" font-weight="normal" fill="#1c1a1b"  stroke="#1c1a1b" stroke-width="0.3">25</text>
<line x1="220.20" y1="567.15" x2="223.60" y2="567.15" stroke="#000" stroke-width="1.2" stroke-linecap="butt"/>
<text transform="translate(217.20,570.55) scale(1.05,1)" font-size="8.0" text-anchor="end" font-weight="normal" fill="#1c1a1b"  stroke="#1c1a1b" stroke-width="0.3">50</text>
<line x1="220.20" y1="545.52" x2="223.60" y2="545.52" stroke="#000" stroke-width="1.2" stroke-linecap="butt"/>
<text transform="translate(217.20,548.92) scale(1.05,1)" font-size="8.0" text-anchor="end" font-weight="normal" fill="#1c1a1b"  stroke="#1c1a1b" stroke-width="0.3">75</text>
<line x1="220.20" y1="523.90" x2="223.60" y2="523.90" stroke="#000" stroke-width="1.2" stroke-linecap="butt"/>
<text transform="translate(217.20,527.30) scale(1.05,1)" font-size="8.0" text-anchor="end" font-weight="normal" fill="#1c1a1b"  stroke="#1c1a1b" stroke-width="0.3">100</text>
<line x1="220.20" y1="502.27" x2="223.60" y2="502.27" stroke="#000" stroke-width="1.2" stroke-linecap="butt"/>
<text transform="translate(217.20,505.67) scale(1.05,1)" font-size="8.0" text-anchor="end" font-weight="normal" fill="#1c1a1b"  stroke="#1c1a1b" stroke-width="0.3">125</text>
<line x1="235.20" y1="610.40" x2="235.20" y2="614.20" stroke="#000" stroke-width="1.2" stroke-linecap="butt"/>
<line x1="259.10" y1="610.40" x2="259.10" y2="614.20" stroke="#000" stroke-width="1.2" stroke-linecap="butt"/>
<line x1="283.30" y1="610.40" x2="283.30" y2="614.20" stroke="#000" stroke-width="1.2" stroke-linecap="butt"/>
<line x1="306.70" y1="610.40" x2="306.70" y2="614.20" stroke="#000" stroke-width="1.2" stroke-linecap="butt"/>
<line x1="330.80" y1="610.40" x2="330.80" y2="614.20" stroke="#000" stroke-width="1.2" stroke-linecap="butt"/>
<text transform="translate(196.70,555.00) rotate(-90) scale(0.9,1)" font-size="9.3" text-anchor="middle" font-weight="normal" fill="#1c1a1b" letter-spacing="0.42" stroke="#1c1a1b" stroke-width="0.3">% aggregation</text>
<text transform="translate(241.00,621.70) rotate(-45)" font-size="8.6" text-anchor="end" font-weight="normal" fill="#1c1a1b"  stroke="#1c1a1b" stroke-width="0.12">ERp57<tspan dy="-3.53" font-size="5.85" font-weight="bold">fl/fl</tspan></text>
<text transform="translate(289.10,621.70) rotate(-45)" font-size="8.6" text-anchor="end" font-weight="normal" fill="#1c1a1b"  stroke="#1c1a1b" stroke-width="0.12">PDI</text>
<text transform="translate(312.50,621.70) rotate(-45)" font-size="8.6" text-anchor="end" font-weight="normal" fill="#1c1a1b"  stroke="#1c1a1b" stroke-width="0.12">ERp72</text>
<text transform="translate(336.60,621.70) rotate(-45)" font-size="8.6" text-anchor="end" font-weight="normal" fill="#1c1a1b"  stroke="#1c1a1b" stroke-width="0.12">ERp57</text>
<line x1="234.50" y1="512.20" x2="256.50" y2="512.20" stroke="#000" stroke-width="1.25" stroke-linecap="butt"/>
<text transform="translate(245.80,510.70)" font-size="9.0" text-anchor="middle" font-weight="bold" fill="#000" letter-spacing="0.55" stroke="#000" stroke-width="0.25">***</text>
<line x1="260.70" y1="512.20" x2="332.00" y2="512.20" stroke="#000" stroke-width="1.25" stroke-linecap="butt"/>
<text transform="translate(296.60,510.70)" font-size="9.0" text-anchor="middle" font-weight="bold" fill="#000" letter-spacing="0.55" stroke="#000" stroke-width="0.25">***</text>
<line x1="282.50" y1="520.90" x2="330.50" y2="520.90" stroke="#000" stroke-width="1.25" stroke-linecap="butt"/>
<text transform="translate(306.30,519.40)" font-size="9.0" text-anchor="middle" font-weight="bold" fill="#000" letter-spacing="0.55" stroke="#000" stroke-width="0.25">***</text>
<line x1="308.50" y1="529.50" x2="331.20" y2="529.50" stroke="#000" stroke-width="1.25" stroke-linecap="butt"/>
<text transform="translate(319.80,528.00)" font-size="9.0" text-anchor="middle" font-weight="bold" fill="#000" letter-spacing="0.55" stroke="#000" stroke-width="0.25">***</text>
<line x1="257.00" y1="564.80" x2="282.50" y2="564.80" stroke="#000" stroke-width="1.25" stroke-linecap="butt"/>
<text transform="translate(270.20,561.00) scale(0.99,1)" font-size="8.0" text-anchor="middle" font-weight="normal" fill="#1a1a1a"  stroke="#1a1a1a" stroke-width="0.2">NS</text>
<path d="M256.70,646.00 L256.70,650.80 L338.50,650.80 L338.50,646.00" fill="none" stroke="#000" stroke-width="1.0" stroke-linejoin="round" />
<text transform="translate(297.60,665.40)" font-size="8.5" text-anchor="middle" font-weight="normal" fill="#1c1a1b"  stroke="#1c1a1b" stroke-width="0.1">Pf4-Cre/ERp57<tspan dy="-3.48" font-size="5.78" font-weight="bold">fl/fl</tspan></text>
<rect x="399.50" y="524.50" width="12.40" height="86.10" fill="#a80a2b"/>
<rect x="423.60" y="586.06" width="12.40" height="24.54" fill="#a80a2b"/>
<line x1="429.80" y1="586.36" x2="429.80" y2="581.76" stroke="#2e2a2a" stroke-width="1.4" stroke-linecap="butt"/>
<line x1="425.90" y1="581.76" x2="433.70" y2="581.76" stroke="#2e2a2a" stroke-width="1.3" stroke-linecap="butt"/>
<rect x="447.10" y="586.92" width="12.40" height="23.68" fill="#a80a2b"/>
<line x1="453.30" y1="587.22" x2="453.30" y2="580.90" stroke="#2e2a2a" stroke-width="1.4" stroke-linecap="butt"/>
<line x1="449.40" y1="580.90" x2="457.20" y2="580.90" stroke="#2e2a2a" stroke-width="1.3" stroke-linecap="butt"/>
<rect x="470.70" y="582.62" width="12.40" height="27.98" fill="#a80a2b"/>
<line x1="476.90" y1="582.92" x2="476.90" y2="579.17" stroke="#2e2a2a" stroke-width="1.4" stroke-linecap="butt"/>
<line x1="473.00" y1="579.17" x2="480.80" y2="579.17" stroke="#2e2a2a" stroke-width="1.3" stroke-linecap="butt"/>
<rect x="494.90" y="546.46" width="12.40" height="64.14" fill="#a80a2b"/>
<line x1="501.10" y1="546.76" x2="501.10" y2="541.29" stroke="#2e2a2a" stroke-width="1.4" stroke-linecap="butt"/>
<line x1="497.20" y1="541.29" x2="505.00" y2="541.29" stroke="#2e2a2a" stroke-width="1.3" stroke-linecap="butt"/>
<line x1="394.00" y1="499.98" x2="394.00" y2="611.30" stroke="#000" stroke-width="1.4" stroke-linecap="butt"/>
<line x1="393.30" y1="610.60" x2="512.00" y2="610.60" stroke="#000" stroke-width="1.4" stroke-linecap="butt"/>
<line x1="390.60" y1="610.60" x2="394.00" y2="610.60" stroke="#000" stroke-width="1.2" stroke-linecap="butt"/>
<text transform="translate(387.60,614.00) scale(1.05,1)" font-size="8.0" text-anchor="end" font-weight="normal" fill="#1c1a1b"  stroke="#1c1a1b" stroke-width="0.3">0</text>
<line x1="390.60" y1="589.08" x2="394.00" y2="589.08" stroke="#000" stroke-width="1.2" stroke-linecap="butt"/>
<text transform="translate(387.60,592.48) scale(1.05,1)" font-size="8.0" text-anchor="end" font-weight="normal" fill="#1c1a1b"  stroke="#1c1a1b" stroke-width="0.3">25</text>
<line x1="390.60" y1="567.55" x2="394.00" y2="567.55" stroke="#000" stroke-width="1.2" stroke-linecap="butt"/>
<text transform="translate(387.60,570.95) scale(1.05,1)" font-size="8.0" text-anchor="end" font-weight="normal" fill="#1c1a1b"  stroke="#1c1a1b" stroke-width="0.3">50</text>
<line x1="390.60" y1="546.02" x2="394.00" y2="546.02" stroke="#000" stroke-width="1.2" stroke-linecap="butt"/>
<text transform="translate(387.60,549.42) scale(1.05,1)" font-size="8.0" text-anchor="end" font-weight="normal" fill="#1c1a1b"  stroke="#1c1a1b" stroke-width="0.3">75</text>
<line x1="390.60" y1="524.50" x2="394.00" y2="524.50" stroke="#000" stroke-width="1.2" stroke-linecap="butt"/>
<text transform="translate(387.60,527.90) scale(1.05,1)" font-size="8.0" text-anchor="end" font-weight="normal" fill="#1c1a1b"  stroke="#1c1a1b" stroke-width="0.3">100</text>
<line x1="390.60" y1="502.98" x2="394.00" y2="502.98" stroke="#000" stroke-width="1.2" stroke-linecap="butt"/>
<text transform="translate(387.60,506.38) scale(1.05,1)" font-size="8.0" text-anchor="end" font-weight="normal" fill="#1c1a1b"  stroke="#1c1a1b" stroke-width="0.3">125</text>
<line x1="405.70" y1="610.60" x2="405.70" y2="614.40" stroke="#000" stroke-width="1.2" stroke-linecap="butt"/>
<line x1="429.80" y1="610.60" x2="429.80" y2="614.40" stroke="#000" stroke-width="1.2" stroke-linecap="butt"/>
<line x1="453.30" y1="610.60" x2="453.30" y2="614.40" stroke="#000" stroke-width="1.2" stroke-linecap="butt"/>
<line x1="476.90" y1="610.60" x2="476.90" y2="614.40" stroke="#000" stroke-width="1.2" stroke-linecap="butt"/>
<line x1="501.10" y1="610.60" x2="501.10" y2="614.40" stroke="#000" stroke-width="1.2" stroke-linecap="butt"/>
<text transform="translate(366.50,555.20) rotate(-90) scale(0.9,1)" font-size="9.3" text-anchor="middle" font-weight="normal" fill="#1c1a1b" letter-spacing="0.2" stroke="#1c1a1b" stroke-width="0.3">% ATP release</text>
<text transform="translate(411.50,621.90) rotate(-45)" font-size="8.6" text-anchor="end" font-weight="normal" fill="#1c1a1b"  stroke="#1c1a1b" stroke-width="0.12">ERp57<tspan dy="-3.53" font-size="5.85" font-weight="bold">fl/fl</tspan></text>
<text transform="translate(459.10,621.90) rotate(-45)" font-size="8.6" text-anchor="end" font-weight="normal" fill="#1c1a1b"  stroke="#1c1a1b" stroke-width="0.12">PDI</text>
<text transform="translate(482.70,621.90) rotate(-45)" font-size="8.6" text-anchor="end" font-weight="normal" fill="#1c1a1b"  stroke="#1c1a1b" stroke-width="0.12">ERp72</text>
<text transform="translate(506.90,621.90) rotate(-45)" font-size="8.6" text-anchor="end" font-weight="normal" fill="#1c1a1b"  stroke="#1c1a1b" stroke-width="0.12">ERp57</text>
<line x1="404.50" y1="519.00" x2="428.30" y2="519.00" stroke="#000" stroke-width="1.25" stroke-linecap="butt"/>
<text transform="translate(417.50,517.50)" font-size="9.0" text-anchor="middle" font-weight="bold" fill="#000" letter-spacing="0.55" stroke="#000" stroke-width="0.25">***</text>
<line x1="430.50" y1="519.00" x2="502.00" y2="519.00" stroke="#000" stroke-width="1.25" stroke-linecap="butt"/>
<text transform="translate(466.60,517.50)" font-size="9.0" text-anchor="middle" font-weight="bold" fill="#000" letter-spacing="0.55" stroke="#000" stroke-width="0.25">***</text>
<line x1="452.50" y1="527.80" x2="500.50" y2="527.80" stroke="#000" stroke-width="1.25" stroke-linecap="butt"/>
<text transform="translate(477.00,526.30)" font-size="9.0" text-anchor="middle" font-weight="bold" fill="#000" letter-spacing="0.55" stroke="#000" stroke-width="0.25">***</text>
<line x1="478.70" y1="536.50" x2="501.20" y2="536.50" stroke="#000" stroke-width="1.25" stroke-linecap="butt"/>
<text transform="translate(489.80,535.00)" font-size="9.0" text-anchor="middle" font-weight="bold" fill="#000" letter-spacing="0.55" stroke="#000" stroke-width="0.25">***</text>
<path d="M425.40,645.00 L425.40,649.80 L507.50,649.80 L507.50,645.00" fill="none" stroke="#000" stroke-width="1.0" stroke-linejoin="round" />
<text transform="translate(466.60,663.80)" font-size="8.5" text-anchor="middle" font-weight="normal" fill="#1c1a1b"  stroke="#1c1a1b" stroke-width="0.1">Pf4-Cre/ERp57<tspan dy="-3.48" font-size="5.78" font-weight="bold">fl/fl</tspan></text>
<rect x="0" y="0" width="520" height="1.3" fill="#000"/>
<rect x="0" y="0" width="1.4" height="732" fill="#000"/>
<rect x="518.2" y="0" width="1.8" height="732" fill="#000"/>
<rect x="0" y="730.3" width="520" height="1.7" fill="#000"/>
</svg></body></html>
